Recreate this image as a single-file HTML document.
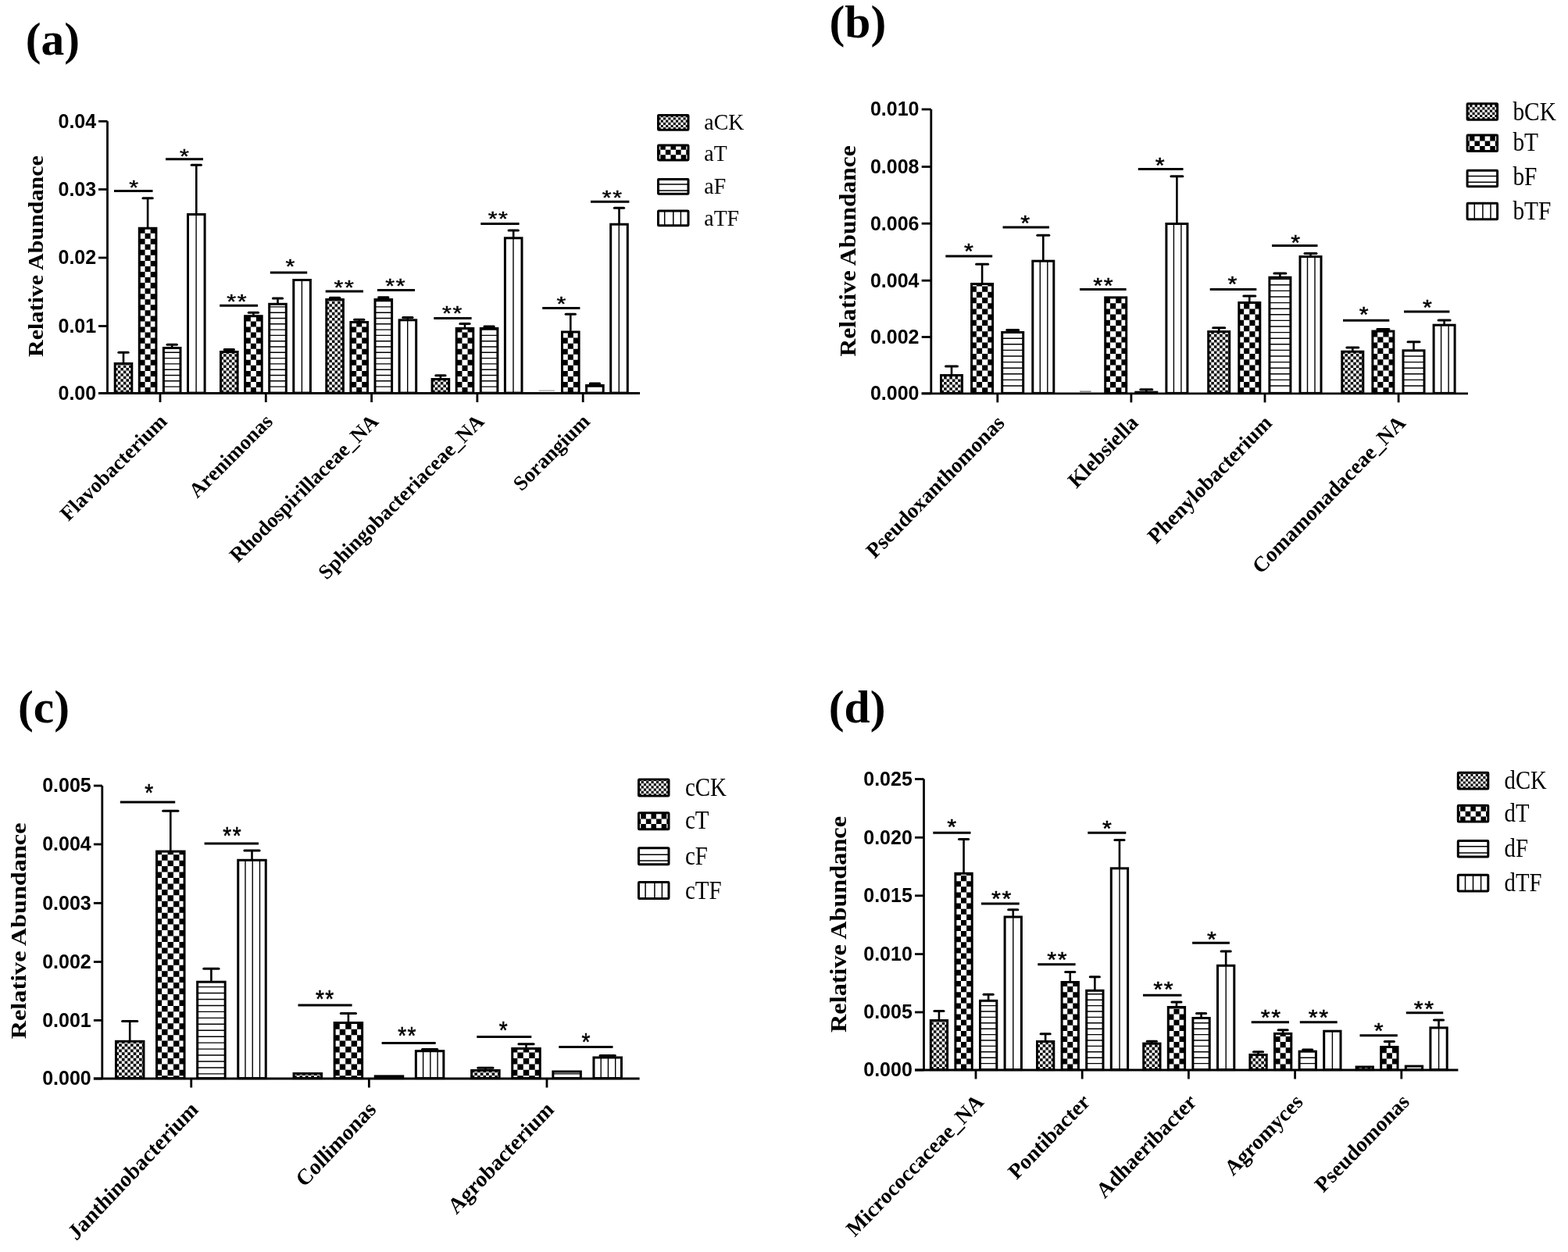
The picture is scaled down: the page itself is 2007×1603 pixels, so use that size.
<!DOCTYPE html>
<html><head><meta charset="utf-8"><title>Relative Abundance</title><style>
html,body{margin:0;padding:0;background:#fff;}
svg{display:block;}
text{fill:#000;}
.st{font-family:"Liberation Sans",Arial,sans-serif;font-size:30.5px;text-anchor:middle;stroke:#000;stroke-width:0.55px;}
.yl{font-family:"Liberation Sans",Arial,sans-serif;font-weight:bold;font-size:25px;text-anchor:end;}
.xl{font-family:"Liberation Serif","Times New Roman",serif;font-weight:bold;font-size:28px;text-anchor:end;}
.yt{font-family:"Liberation Serif","Times New Roman",serif;font-weight:bold;font-size:30px;text-anchor:middle;}
.pl{font-family:"Liberation Serif","Times New Roman",serif;font-weight:bold;font-size:58px;}
.lg{font-family:"Liberation Serif","Times New Roman",serif;font-size:30px;}
</style></head>
<body><svg width="2007" height="1603" viewBox="0 0 2007 1603">
<rect width="2007" height="1603" fill="#fff"/>
<defs><clipPath id="c0"><rect x="147.2" y="465.5" width="21.6" height="37.6"/></clipPath><clipPath id="c1"><rect x="178.3" y="292.25" width="21.6" height="210.85"/></clipPath><clipPath id="c2"><rect x="209.4" y="445.5" width="21.6" height="57.6"/></clipPath><clipPath id="c3"><rect x="240.5" y="274.5" width="21.6" height="228.6"/></clipPath><clipPath id="c4"><rect x="282.5" y="450.5" width="21.6" height="52.6"/></clipPath><clipPath id="c5"><rect x="313.6" y="404.7" width="21.6" height="98.4"/></clipPath><clipPath id="c6"><rect x="344.7" y="389.3" width="21.6" height="113.8"/></clipPath><clipPath id="c7"><rect x="375.8" y="358.5" width="21.6" height="144.6"/></clipPath><clipPath id="c8"><rect x="417.8" y="383.5" width="21.6" height="119.6"/></clipPath><clipPath id="c9"><rect x="448.9" y="412.5" width="21.6" height="90.6"/></clipPath><clipPath id="c10"><rect x="480" y="383.5" width="21.6" height="119.6"/></clipPath><clipPath id="c11"><rect x="511.1" y="409.8" width="21.6" height="93.3"/></clipPath><clipPath id="c12"><rect x="553.1" y="485.5" width="21.6" height="17.6"/></clipPath><clipPath id="c13"><rect x="584.2" y="420.5" width="21.6" height="82.6"/></clipPath><clipPath id="c14"><rect x="615.3" y="420.5" width="21.6" height="82.6"/></clipPath><clipPath id="c15"><rect x="646.4" y="304.8" width="21.6" height="198.3"/></clipPath><clipPath id="c16"><rect x="719.5" y="425" width="21.6" height="78.1"/></clipPath><clipPath id="c17"><rect x="750.6" y="493.5" width="21.6" height="9.6"/></clipPath><clipPath id="c18"><rect x="781.7" y="287.2" width="21.6" height="215.9"/></clipPath><clipPath id="c19"><rect x="842.5" y="147.5" width="38.5" height="18.8"/></clipPath><clipPath id="c20"><rect x="842.5" y="186.1" width="38.5" height="18.8"/></clipPath><clipPath id="c21"><rect x="1204.5" y="480.5" width="27" height="22.9"/></clipPath><clipPath id="c22"><rect x="1243.6" y="363.5" width="27" height="139.9"/></clipPath><clipPath id="c23"><rect x="1282.7" y="425.5" width="27" height="77.9"/></clipPath><clipPath id="c24"><rect x="1321.8" y="334.2" width="27" height="169.2"/></clipPath><clipPath id="c25"><rect x="1414.7" y="380.9" width="27" height="122.5"/></clipPath><clipPath id="c26"><rect x="1492.9" y="286.5" width="27" height="216.9"/></clipPath><clipPath id="c27"><rect x="1546.7" y="424.6" width="27" height="78.8"/></clipPath><clipPath id="c28"><rect x="1585.8" y="387.5" width="27" height="115.9"/></clipPath><clipPath id="c29"><rect x="1624.9" y="355.2" width="27" height="148.2"/></clipPath><clipPath id="c30"><rect x="1664" y="328.6" width="27" height="174.8"/></clipPath><clipPath id="c31"><rect x="1717.8" y="450.2" width="27" height="53.2"/></clipPath><clipPath id="c32"><rect x="1756.9" y="424.1" width="27" height="79.3"/></clipPath><clipPath id="c33"><rect x="1796" y="448.8" width="27" height="54.6"/></clipPath><clipPath id="c34"><rect x="1835.1" y="416.2" width="27" height="87.2"/></clipPath><clipPath id="c35"><rect x="1878.1" y="132.8" width="38.5" height="20.5"/></clipPath><clipPath id="c36"><rect x="1878.1" y="173.1" width="38.5" height="20.5"/></clipPath><clipPath id="c37"><rect x="148.45" y="1333.3" width="35.5" height="47.3"/></clipPath><clipPath id="c38"><rect x="200.55" y="1090.1" width="35.5" height="290.5"/></clipPath><clipPath id="c39"><rect x="252.65" y="1257.2" width="35.5" height="123.4"/></clipPath><clipPath id="c40"><rect x="304.75" y="1101.3" width="35.5" height="279.3"/></clipPath><clipPath id="c41"><rect x="376.05" y="1374.5" width="35.5" height="6.1"/></clipPath><clipPath id="c42"><rect x="428.15" y="1309.5" width="35.5" height="71.1"/></clipPath><clipPath id="c43"><rect x="532.35" y="1345.7" width="35.5" height="34.9"/></clipPath><clipPath id="c44"><rect x="603.65" y="1370.5" width="35.5" height="10.1"/></clipPath><clipPath id="c45"><rect x="655.75" y="1342.5" width="35.5" height="38.1"/></clipPath><clipPath id="c46"><rect x="707.85" y="1372" width="35.5" height="8.6"/></clipPath><clipPath id="c47"><rect x="759.95" y="1354" width="35.5" height="26.6"/></clipPath><clipPath id="c48"><rect x="817.5" y="998.1" width="38.5" height="21"/></clipPath><clipPath id="c49"><rect x="817.5" y="1040.7" width="38.5" height="21"/></clipPath><clipPath id="c50"><rect x="1191.3" y="1306.5" width="21.3" height="63.1"/></clipPath><clipPath id="c51"><rect x="1222.9" y="1118.3" width="21.3" height="251.3"/></clipPath><clipPath id="c52"><rect x="1254.5" y="1281.3" width="21.3" height="88.3"/></clipPath><clipPath id="c53"><rect x="1286.1" y="1174" width="21.3" height="195.6"/></clipPath><clipPath id="c54"><rect x="1327.5" y="1333.5" width="21.3" height="36.1"/></clipPath><clipPath id="c55"><rect x="1359.1" y="1257.5" width="21.3" height="112.1"/></clipPath><clipPath id="c56"><rect x="1390.7" y="1268.3" width="21.3" height="101.3"/></clipPath><clipPath id="c57"><rect x="1422.3" y="1111.8" width="21.3" height="257.8"/></clipPath><clipPath id="c58"><rect x="1463.7" y="1336.1" width="21.3" height="33.5"/></clipPath><clipPath id="c59"><rect x="1495.3" y="1289.5" width="21.3" height="80.1"/></clipPath><clipPath id="c60"><rect x="1526.9" y="1303.5" width="21.3" height="66.1"/></clipPath><clipPath id="c61"><rect x="1558.5" y="1236.3" width="21.3" height="133.3"/></clipPath><clipPath id="c62"><rect x="1599.9" y="1350.5" width="21.3" height="19.1"/></clipPath><clipPath id="c63"><rect x="1631.5" y="1323.4" width="21.3" height="46.2"/></clipPath><clipPath id="c64"><rect x="1663.1" y="1346.2" width="21.3" height="23.4"/></clipPath><clipPath id="c65"><rect x="1694.7" y="1320.2" width="21.3" height="49.4"/></clipPath><clipPath id="c66"><rect x="1736.1" y="1366" width="21.3" height="3.6"/></clipPath><clipPath id="c67"><rect x="1767.7" y="1340.5" width="21.3" height="29.1"/></clipPath><clipPath id="c68"><rect x="1799.3" y="1365.1" width="21.3" height="4.5"/></clipPath><clipPath id="c69"><rect x="1830.9" y="1315.9" width="21.3" height="53.7"/></clipPath><clipPath id="c70"><rect x="1866.3" y="989.3" width="38.5" height="20.7"/></clipPath><clipPath id="c71"><rect x="1866.3" y="1031.3" width="38.5" height="20.7"/></clipPath></defs>
<g><path clip-path="url(#c0)" d="M147.2 499.54h3.56v3.56h-3.56zM154.32 499.54h3.56v3.56h-3.56zM161.44 499.54h3.56v3.56h-3.56zM168.56 499.54h3.56v3.56h-3.56zM150.76 495.98h3.56v3.56h-3.56zM157.88 495.98h3.56v3.56h-3.56zM165 495.98h3.56v3.56h-3.56zM172.12 495.98h3.56v3.56h-3.56zM147.2 492.42h3.56v3.56h-3.56zM154.32 492.42h3.56v3.56h-3.56zM161.44 492.42h3.56v3.56h-3.56zM168.56 492.42h3.56v3.56h-3.56zM150.76 488.86h3.56v3.56h-3.56zM157.88 488.86h3.56v3.56h-3.56zM165 488.86h3.56v3.56h-3.56zM172.12 488.86h3.56v3.56h-3.56zM147.2 485.3h3.56v3.56h-3.56zM154.32 485.3h3.56v3.56h-3.56zM161.44 485.3h3.56v3.56h-3.56zM168.56 485.3h3.56v3.56h-3.56zM150.76 481.74h3.56v3.56h-3.56zM157.88 481.74h3.56v3.56h-3.56zM165 481.74h3.56v3.56h-3.56zM172.12 481.74h3.56v3.56h-3.56zM147.2 478.18h3.56v3.56h-3.56zM154.32 478.18h3.56v3.56h-3.56zM161.44 478.18h3.56v3.56h-3.56zM168.56 478.18h3.56v3.56h-3.56zM150.76 474.62h3.56v3.56h-3.56zM157.88 474.62h3.56v3.56h-3.56zM165 474.62h3.56v3.56h-3.56zM172.12 474.62h3.56v3.56h-3.56zM147.2 471.06h3.56v3.56h-3.56zM154.32 471.06h3.56v3.56h-3.56zM161.44 471.06h3.56v3.56h-3.56zM168.56 471.06h3.56v3.56h-3.56zM150.76 467.5h3.56v3.56h-3.56zM157.88 467.5h3.56v3.56h-3.56zM165 467.5h3.56v3.56h-3.56zM172.12 467.5h3.56v3.56h-3.56zM147.2 463.94h3.56v3.56h-3.56zM154.32 463.94h3.56v3.56h-3.56zM161.44 463.94h3.56v3.56h-3.56zM168.56 463.94h3.56v3.56h-3.56zM150.76 460.38h3.56v3.56h-3.56zM157.88 460.38h3.56v3.56h-3.56zM165 460.38h3.56v3.56h-3.56zM172.12 460.38h3.56v3.56h-3.56z" fill="#111"/><rect x="147.2" y="465.5" width="21.6" height="37.6" fill="none" stroke="#000" stroke-width="3"/><path d="M158 464.5V451.2" stroke="#000" stroke-width="2.6"/><path d="M151.85 451.2H164.15" stroke="#000" stroke-width="3" stroke-linecap="round"/><path clip-path="url(#c1)" d="M164.42 503.1h7.05v7.05h-7.05zM178.52 503.1h7.05v7.05h-7.05zM192.62 503.1h7.05v7.05h-7.05zM206.72 503.1h7.05v7.05h-7.05zM171.47 496.05h7.05v7.05h-7.05zM185.57 496.05h7.05v7.05h-7.05zM199.67 496.05h7.05v7.05h-7.05zM164.42 489h7.05v7.05h-7.05zM178.52 489h7.05v7.05h-7.05zM192.62 489h7.05v7.05h-7.05zM206.72 489h7.05v7.05h-7.05zM171.47 481.95h7.05v7.05h-7.05zM185.57 481.95h7.05v7.05h-7.05zM199.67 481.95h7.05v7.05h-7.05zM164.42 474.9h7.05v7.05h-7.05zM178.52 474.9h7.05v7.05h-7.05zM192.62 474.9h7.05v7.05h-7.05zM206.72 474.9h7.05v7.05h-7.05zM171.47 467.85h7.05v7.05h-7.05zM185.57 467.85h7.05v7.05h-7.05zM199.67 467.85h7.05v7.05h-7.05zM164.42 460.8h7.05v7.05h-7.05zM178.52 460.8h7.05v7.05h-7.05zM192.62 460.8h7.05v7.05h-7.05zM206.72 460.8h7.05v7.05h-7.05zM171.47 453.75h7.05v7.05h-7.05zM185.57 453.75h7.05v7.05h-7.05zM199.67 453.75h7.05v7.05h-7.05zM164.42 446.7h7.05v7.05h-7.05zM178.52 446.7h7.05v7.05h-7.05zM192.62 446.7h7.05v7.05h-7.05zM206.72 446.7h7.05v7.05h-7.05zM171.47 439.65h7.05v7.05h-7.05zM185.57 439.65h7.05v7.05h-7.05zM199.67 439.65h7.05v7.05h-7.05zM164.42 432.6h7.05v7.05h-7.05zM178.52 432.6h7.05v7.05h-7.05zM192.62 432.6h7.05v7.05h-7.05zM206.72 432.6h7.05v7.05h-7.05zM171.47 425.55h7.05v7.05h-7.05zM185.57 425.55h7.05v7.05h-7.05zM199.67 425.55h7.05v7.05h-7.05zM164.42 418.5h7.05v7.05h-7.05zM178.52 418.5h7.05v7.05h-7.05zM192.62 418.5h7.05v7.05h-7.05zM206.72 418.5h7.05v7.05h-7.05zM171.47 411.45h7.05v7.05h-7.05zM185.57 411.45h7.05v7.05h-7.05zM199.67 411.45h7.05v7.05h-7.05zM164.42 404.4h7.05v7.05h-7.05zM178.52 404.4h7.05v7.05h-7.05zM192.62 404.4h7.05v7.05h-7.05zM206.72 404.4h7.05v7.05h-7.05zM171.47 397.35h7.05v7.05h-7.05zM185.57 397.35h7.05v7.05h-7.05zM199.67 397.35h7.05v7.05h-7.05zM164.42 390.3h7.05v7.05h-7.05zM178.52 390.3h7.05v7.05h-7.05zM192.62 390.3h7.05v7.05h-7.05zM206.72 390.3h7.05v7.05h-7.05zM171.47 383.25h7.05v7.05h-7.05zM185.57 383.25h7.05v7.05h-7.05zM199.67 383.25h7.05v7.05h-7.05zM164.42 376.2h7.05v7.05h-7.05zM178.52 376.2h7.05v7.05h-7.05zM192.62 376.2h7.05v7.05h-7.05zM206.72 376.2h7.05v7.05h-7.05zM171.47 369.15h7.05v7.05h-7.05zM185.57 369.15h7.05v7.05h-7.05zM199.67 369.15h7.05v7.05h-7.05zM164.42 362.1h7.05v7.05h-7.05zM178.52 362.1h7.05v7.05h-7.05zM192.62 362.1h7.05v7.05h-7.05zM206.72 362.1h7.05v7.05h-7.05zM171.47 355.05h7.05v7.05h-7.05zM185.57 355.05h7.05v7.05h-7.05zM199.67 355.05h7.05v7.05h-7.05zM164.42 348h7.05v7.05h-7.05zM178.52 348h7.05v7.05h-7.05zM192.62 348h7.05v7.05h-7.05zM206.72 348h7.05v7.05h-7.05zM171.47 340.95h7.05v7.05h-7.05zM185.57 340.95h7.05v7.05h-7.05zM199.67 340.95h7.05v7.05h-7.05zM164.42 333.9h7.05v7.05h-7.05zM178.52 333.9h7.05v7.05h-7.05zM192.62 333.9h7.05v7.05h-7.05zM206.72 333.9h7.05v7.05h-7.05zM171.47 326.85h7.05v7.05h-7.05zM185.57 326.85h7.05v7.05h-7.05zM199.67 326.85h7.05v7.05h-7.05zM164.42 319.8h7.05v7.05h-7.05zM178.52 319.8h7.05v7.05h-7.05zM192.62 319.8h7.05v7.05h-7.05zM206.72 319.8h7.05v7.05h-7.05zM171.47 312.75h7.05v7.05h-7.05zM185.57 312.75h7.05v7.05h-7.05zM199.67 312.75h7.05v7.05h-7.05zM164.42 305.7h7.05v7.05h-7.05zM178.52 305.7h7.05v7.05h-7.05zM192.62 305.7h7.05v7.05h-7.05zM206.72 305.7h7.05v7.05h-7.05zM171.47 298.65h7.05v7.05h-7.05zM185.57 298.65h7.05v7.05h-7.05zM199.67 298.65h7.05v7.05h-7.05zM164.42 291.6h7.05v7.05h-7.05zM178.52 291.6h7.05v7.05h-7.05zM192.62 291.6h7.05v7.05h-7.05zM206.72 291.6h7.05v7.05h-7.05zM171.47 284.55h7.05v7.05h-7.05zM185.57 284.55h7.05v7.05h-7.05zM199.67 284.55h7.05v7.05h-7.05zM164.42 277.5h7.05v7.05h-7.05zM178.52 277.5h7.05v7.05h-7.05zM192.62 277.5h7.05v7.05h-7.05zM206.72 277.5h7.05v7.05h-7.05z" fill="#000"/><rect x="178.3" y="292.25" width="21.6" height="210.85" fill="none" stroke="#000" stroke-width="3"/><path d="M189.1 291.25V253.8" stroke="#000" stroke-width="2.6"/><path d="M182.95 253.8H195.25" stroke="#000" stroke-width="3" stroke-linecap="round"/><path clip-path="url(#c2)" d="M209.4 495.1H231M209.4 487.8H231M209.4 480.5H231M209.4 473.2H231M209.4 465.9H231M209.4 458.6H231M209.4 451.3H231" stroke="#000" stroke-width="1.4" fill="none"/><rect x="209.4" y="445.5" width="21.6" height="57.6" fill="none" stroke="#000" stroke-width="3"/><path d="M220.2 444.5V441.2" stroke="#000" stroke-width="2.6"/><path d="M214.05 441.2H226.35" stroke="#000" stroke-width="3" stroke-linecap="round"/><path clip-path="url(#c3)" d="M251.1 274.5V503.1" stroke="#000" stroke-width="1.4" fill="none"/><rect x="240.5" y="274.5" width="21.6" height="228.6" fill="none" stroke="#000" stroke-width="3"/><path d="M251.3 273.5V211.3" stroke="#000" stroke-width="2.6"/><path d="M245.15 211.3H257.45" stroke="#000" stroke-width="3" stroke-linecap="round"/><path d="M146 244.5H195.5" stroke="#000" stroke-width="3"/><text class="st" transform="translate(171.1 248.62) scale(1 0.86)" >*</text><path d="M212 203.75H260" stroke="#000" stroke-width="3"/><text class="st" transform="translate(236 209.22) scale(1 0.86)" >*</text><path clip-path="url(#c4)" d="M282.5 499.54h3.56v3.56h-3.56zM289.62 499.54h3.56v3.56h-3.56zM296.74 499.54h3.56v3.56h-3.56zM303.86 499.54h3.56v3.56h-3.56zM286.06 495.98h3.56v3.56h-3.56zM293.18 495.98h3.56v3.56h-3.56zM300.3 495.98h3.56v3.56h-3.56zM307.42 495.98h3.56v3.56h-3.56zM282.5 492.42h3.56v3.56h-3.56zM289.62 492.42h3.56v3.56h-3.56zM296.74 492.42h3.56v3.56h-3.56zM303.86 492.42h3.56v3.56h-3.56zM286.06 488.86h3.56v3.56h-3.56zM293.18 488.86h3.56v3.56h-3.56zM300.3 488.86h3.56v3.56h-3.56zM307.42 488.86h3.56v3.56h-3.56zM282.5 485.3h3.56v3.56h-3.56zM289.62 485.3h3.56v3.56h-3.56zM296.74 485.3h3.56v3.56h-3.56zM303.86 485.3h3.56v3.56h-3.56zM286.06 481.74h3.56v3.56h-3.56zM293.18 481.74h3.56v3.56h-3.56zM300.3 481.74h3.56v3.56h-3.56zM307.42 481.74h3.56v3.56h-3.56zM282.5 478.18h3.56v3.56h-3.56zM289.62 478.18h3.56v3.56h-3.56zM296.74 478.18h3.56v3.56h-3.56zM303.86 478.18h3.56v3.56h-3.56zM286.06 474.62h3.56v3.56h-3.56zM293.18 474.62h3.56v3.56h-3.56zM300.3 474.62h3.56v3.56h-3.56zM307.42 474.62h3.56v3.56h-3.56zM282.5 471.06h3.56v3.56h-3.56zM289.62 471.06h3.56v3.56h-3.56zM296.74 471.06h3.56v3.56h-3.56zM303.86 471.06h3.56v3.56h-3.56zM286.06 467.5h3.56v3.56h-3.56zM293.18 467.5h3.56v3.56h-3.56zM300.3 467.5h3.56v3.56h-3.56zM307.42 467.5h3.56v3.56h-3.56zM282.5 463.94h3.56v3.56h-3.56zM289.62 463.94h3.56v3.56h-3.56zM296.74 463.94h3.56v3.56h-3.56zM303.86 463.94h3.56v3.56h-3.56zM286.06 460.38h3.56v3.56h-3.56zM293.18 460.38h3.56v3.56h-3.56zM300.3 460.38h3.56v3.56h-3.56zM307.42 460.38h3.56v3.56h-3.56zM282.5 456.82h3.56v3.56h-3.56zM289.62 456.82h3.56v3.56h-3.56zM296.74 456.82h3.56v3.56h-3.56zM303.86 456.82h3.56v3.56h-3.56zM286.06 453.26h3.56v3.56h-3.56zM293.18 453.26h3.56v3.56h-3.56zM300.3 453.26h3.56v3.56h-3.56zM307.42 453.26h3.56v3.56h-3.56zM282.5 449.7h3.56v3.56h-3.56zM289.62 449.7h3.56v3.56h-3.56zM296.74 449.7h3.56v3.56h-3.56zM303.86 449.7h3.56v3.56h-3.56zM286.06 446.14h3.56v3.56h-3.56zM293.18 446.14h3.56v3.56h-3.56zM300.3 446.14h3.56v3.56h-3.56zM307.42 446.14h3.56v3.56h-3.56z" fill="#111"/><rect x="282.5" y="450.5" width="21.6" height="52.6" fill="none" stroke="#000" stroke-width="3"/><path d="M293.3 449.5V447.6" stroke="#000" stroke-width="2.6"/><path d="M287.15 447.6H299.45" stroke="#000" stroke-width="3" stroke-linecap="round"/><path clip-path="url(#c5)" d="M299.73 503.1h7.05v7.05h-7.05zM313.83 503.1h7.05v7.05h-7.05zM327.93 503.1h7.05v7.05h-7.05zM342.03 503.1h7.05v7.05h-7.05zM306.78 496.05h7.05v7.05h-7.05zM320.88 496.05h7.05v7.05h-7.05zM334.98 496.05h7.05v7.05h-7.05zM299.73 489h7.05v7.05h-7.05zM313.83 489h7.05v7.05h-7.05zM327.93 489h7.05v7.05h-7.05zM342.03 489h7.05v7.05h-7.05zM306.78 481.95h7.05v7.05h-7.05zM320.88 481.95h7.05v7.05h-7.05zM334.98 481.95h7.05v7.05h-7.05zM299.73 474.9h7.05v7.05h-7.05zM313.83 474.9h7.05v7.05h-7.05zM327.93 474.9h7.05v7.05h-7.05zM342.03 474.9h7.05v7.05h-7.05zM306.78 467.85h7.05v7.05h-7.05zM320.88 467.85h7.05v7.05h-7.05zM334.98 467.85h7.05v7.05h-7.05zM299.73 460.8h7.05v7.05h-7.05zM313.83 460.8h7.05v7.05h-7.05zM327.93 460.8h7.05v7.05h-7.05zM342.03 460.8h7.05v7.05h-7.05zM306.78 453.75h7.05v7.05h-7.05zM320.88 453.75h7.05v7.05h-7.05zM334.98 453.75h7.05v7.05h-7.05zM299.73 446.7h7.05v7.05h-7.05zM313.83 446.7h7.05v7.05h-7.05zM327.93 446.7h7.05v7.05h-7.05zM342.03 446.7h7.05v7.05h-7.05zM306.78 439.65h7.05v7.05h-7.05zM320.88 439.65h7.05v7.05h-7.05zM334.98 439.65h7.05v7.05h-7.05zM299.73 432.6h7.05v7.05h-7.05zM313.83 432.6h7.05v7.05h-7.05zM327.93 432.6h7.05v7.05h-7.05zM342.03 432.6h7.05v7.05h-7.05zM306.78 425.55h7.05v7.05h-7.05zM320.88 425.55h7.05v7.05h-7.05zM334.98 425.55h7.05v7.05h-7.05zM299.73 418.5h7.05v7.05h-7.05zM313.83 418.5h7.05v7.05h-7.05zM327.93 418.5h7.05v7.05h-7.05zM342.03 418.5h7.05v7.05h-7.05zM306.78 411.45h7.05v7.05h-7.05zM320.88 411.45h7.05v7.05h-7.05zM334.98 411.45h7.05v7.05h-7.05zM299.73 404.4h7.05v7.05h-7.05zM313.83 404.4h7.05v7.05h-7.05zM327.93 404.4h7.05v7.05h-7.05zM342.03 404.4h7.05v7.05h-7.05zM306.78 397.35h7.05v7.05h-7.05zM320.88 397.35h7.05v7.05h-7.05zM334.98 397.35h7.05v7.05h-7.05zM299.73 390.3h7.05v7.05h-7.05zM313.83 390.3h7.05v7.05h-7.05zM327.93 390.3h7.05v7.05h-7.05zM342.03 390.3h7.05v7.05h-7.05z" fill="#000"/><rect x="313.6" y="404.7" width="21.6" height="98.4" fill="none" stroke="#000" stroke-width="3"/><path d="M324.4 403.7V400.3" stroke="#000" stroke-width="2.6"/><path d="M318.25 400.3H330.55" stroke="#000" stroke-width="3" stroke-linecap="round"/><path clip-path="url(#c6)" d="M344.7 495.1H366.3M344.7 487.8H366.3M344.7 480.5H366.3M344.7 473.2H366.3M344.7 465.9H366.3M344.7 458.6H366.3M344.7 451.3H366.3M344.7 444H366.3M344.7 436.7H366.3M344.7 429.4H366.3M344.7 422.1H366.3M344.7 414.8H366.3M344.7 407.5H366.3M344.7 400.2H366.3M344.7 392.9H366.3" stroke="#000" stroke-width="1.4" fill="none"/><rect x="344.7" y="389.3" width="21.6" height="113.8" fill="none" stroke="#000" stroke-width="3"/><path d="M355.5 388.3V382" stroke="#000" stroke-width="2.6"/><path d="M349.35 382H361.65" stroke="#000" stroke-width="3" stroke-linecap="round"/><path clip-path="url(#c7)" d="M386.4 358.5V503.1" stroke="#000" stroke-width="1.4" fill="none"/><rect x="375.8" y="358.5" width="21.6" height="144.6" fill="none" stroke="#000" stroke-width="3"/><path d="M281.2 391.2H330" stroke="#000" stroke-width="3"/><text class="st" transform="translate(303.65 394.62) scale(1 0.86)" letter-spacing="1.6">**</text><path d="M345.8 349H393.2" stroke="#000" stroke-width="3"/><text class="st" transform="translate(371.5 349.72) scale(1 0.86)" >*</text><path clip-path="url(#c8)" d="M417.8 499.54h3.56v3.56h-3.56zM424.92 499.54h3.56v3.56h-3.56zM432.04 499.54h3.56v3.56h-3.56zM439.16 499.54h3.56v3.56h-3.56zM421.36 495.98h3.56v3.56h-3.56zM428.48 495.98h3.56v3.56h-3.56zM435.6 495.98h3.56v3.56h-3.56zM442.72 495.98h3.56v3.56h-3.56zM417.8 492.42h3.56v3.56h-3.56zM424.92 492.42h3.56v3.56h-3.56zM432.04 492.42h3.56v3.56h-3.56zM439.16 492.42h3.56v3.56h-3.56zM421.36 488.86h3.56v3.56h-3.56zM428.48 488.86h3.56v3.56h-3.56zM435.6 488.86h3.56v3.56h-3.56zM442.72 488.86h3.56v3.56h-3.56zM417.8 485.3h3.56v3.56h-3.56zM424.92 485.3h3.56v3.56h-3.56zM432.04 485.3h3.56v3.56h-3.56zM439.16 485.3h3.56v3.56h-3.56zM421.36 481.74h3.56v3.56h-3.56zM428.48 481.74h3.56v3.56h-3.56zM435.6 481.74h3.56v3.56h-3.56zM442.72 481.74h3.56v3.56h-3.56zM417.8 478.18h3.56v3.56h-3.56zM424.92 478.18h3.56v3.56h-3.56zM432.04 478.18h3.56v3.56h-3.56zM439.16 478.18h3.56v3.56h-3.56zM421.36 474.62h3.56v3.56h-3.56zM428.48 474.62h3.56v3.56h-3.56zM435.6 474.62h3.56v3.56h-3.56zM442.72 474.62h3.56v3.56h-3.56zM417.8 471.06h3.56v3.56h-3.56zM424.92 471.06h3.56v3.56h-3.56zM432.04 471.06h3.56v3.56h-3.56zM439.16 471.06h3.56v3.56h-3.56zM421.36 467.5h3.56v3.56h-3.56zM428.48 467.5h3.56v3.56h-3.56zM435.6 467.5h3.56v3.56h-3.56zM442.72 467.5h3.56v3.56h-3.56zM417.8 463.94h3.56v3.56h-3.56zM424.92 463.94h3.56v3.56h-3.56zM432.04 463.94h3.56v3.56h-3.56zM439.16 463.94h3.56v3.56h-3.56zM421.36 460.38h3.56v3.56h-3.56zM428.48 460.38h3.56v3.56h-3.56zM435.6 460.38h3.56v3.56h-3.56zM442.72 460.38h3.56v3.56h-3.56zM417.8 456.82h3.56v3.56h-3.56zM424.92 456.82h3.56v3.56h-3.56zM432.04 456.82h3.56v3.56h-3.56zM439.16 456.82h3.56v3.56h-3.56zM421.36 453.26h3.56v3.56h-3.56zM428.48 453.26h3.56v3.56h-3.56zM435.6 453.26h3.56v3.56h-3.56zM442.72 453.26h3.56v3.56h-3.56zM417.8 449.7h3.56v3.56h-3.56zM424.92 449.7h3.56v3.56h-3.56zM432.04 449.7h3.56v3.56h-3.56zM439.16 449.7h3.56v3.56h-3.56zM421.36 446.14h3.56v3.56h-3.56zM428.48 446.14h3.56v3.56h-3.56zM435.6 446.14h3.56v3.56h-3.56zM442.72 446.14h3.56v3.56h-3.56zM417.8 442.58h3.56v3.56h-3.56zM424.92 442.58h3.56v3.56h-3.56zM432.04 442.58h3.56v3.56h-3.56zM439.16 442.58h3.56v3.56h-3.56zM421.36 439.02h3.56v3.56h-3.56zM428.48 439.02h3.56v3.56h-3.56zM435.6 439.02h3.56v3.56h-3.56zM442.72 439.02h3.56v3.56h-3.56zM417.8 435.46h3.56v3.56h-3.56zM424.92 435.46h3.56v3.56h-3.56zM432.04 435.46h3.56v3.56h-3.56zM439.16 435.46h3.56v3.56h-3.56zM421.36 431.9h3.56v3.56h-3.56zM428.48 431.9h3.56v3.56h-3.56zM435.6 431.9h3.56v3.56h-3.56zM442.72 431.9h3.56v3.56h-3.56zM417.8 428.34h3.56v3.56h-3.56zM424.92 428.34h3.56v3.56h-3.56zM432.04 428.34h3.56v3.56h-3.56zM439.16 428.34h3.56v3.56h-3.56zM421.36 424.78h3.56v3.56h-3.56zM428.48 424.78h3.56v3.56h-3.56zM435.6 424.78h3.56v3.56h-3.56zM442.72 424.78h3.56v3.56h-3.56zM417.8 421.22h3.56v3.56h-3.56zM424.92 421.22h3.56v3.56h-3.56zM432.04 421.22h3.56v3.56h-3.56zM439.16 421.22h3.56v3.56h-3.56zM421.36 417.66h3.56v3.56h-3.56zM428.48 417.66h3.56v3.56h-3.56zM435.6 417.66h3.56v3.56h-3.56zM442.72 417.66h3.56v3.56h-3.56zM417.8 414.1h3.56v3.56h-3.56zM424.92 414.1h3.56v3.56h-3.56zM432.04 414.1h3.56v3.56h-3.56zM439.16 414.1h3.56v3.56h-3.56zM421.36 410.54h3.56v3.56h-3.56zM428.48 410.54h3.56v3.56h-3.56zM435.6 410.54h3.56v3.56h-3.56zM442.72 410.54h3.56v3.56h-3.56zM417.8 406.98h3.56v3.56h-3.56zM424.92 406.98h3.56v3.56h-3.56zM432.04 406.98h3.56v3.56h-3.56zM439.16 406.98h3.56v3.56h-3.56zM421.36 403.42h3.56v3.56h-3.56zM428.48 403.42h3.56v3.56h-3.56zM435.6 403.42h3.56v3.56h-3.56zM442.72 403.42h3.56v3.56h-3.56zM417.8 399.86h3.56v3.56h-3.56zM424.92 399.86h3.56v3.56h-3.56zM432.04 399.86h3.56v3.56h-3.56zM439.16 399.86h3.56v3.56h-3.56zM421.36 396.3h3.56v3.56h-3.56zM428.48 396.3h3.56v3.56h-3.56zM435.6 396.3h3.56v3.56h-3.56zM442.72 396.3h3.56v3.56h-3.56zM417.8 392.74h3.56v3.56h-3.56zM424.92 392.74h3.56v3.56h-3.56zM432.04 392.74h3.56v3.56h-3.56zM439.16 392.74h3.56v3.56h-3.56zM421.36 389.18h3.56v3.56h-3.56zM428.48 389.18h3.56v3.56h-3.56zM435.6 389.18h3.56v3.56h-3.56zM442.72 389.18h3.56v3.56h-3.56zM417.8 385.62h3.56v3.56h-3.56zM424.92 385.62h3.56v3.56h-3.56zM432.04 385.62h3.56v3.56h-3.56zM439.16 385.62h3.56v3.56h-3.56zM421.36 382.06h3.56v3.56h-3.56zM428.48 382.06h3.56v3.56h-3.56zM435.6 382.06h3.56v3.56h-3.56zM442.72 382.06h3.56v3.56h-3.56zM417.8 378.5h3.56v3.56h-3.56zM424.92 378.5h3.56v3.56h-3.56zM432.04 378.5h3.56v3.56h-3.56zM439.16 378.5h3.56v3.56h-3.56z" fill="#111"/><rect x="417.8" y="383.5" width="21.6" height="119.6" fill="none" stroke="#000" stroke-width="3"/><path d="M428.6 382.5V381.3" stroke="#000" stroke-width="2.6"/><path d="M422.45 381.3H434.75" stroke="#000" stroke-width="3" stroke-linecap="round"/><path clip-path="url(#c9)" d="M435.03 503.1h7.05v7.05h-7.05zM449.13 503.1h7.05v7.05h-7.05zM463.23 503.1h7.05v7.05h-7.05zM477.33 503.1h7.05v7.05h-7.05zM442.08 496.05h7.05v7.05h-7.05zM456.18 496.05h7.05v7.05h-7.05zM470.28 496.05h7.05v7.05h-7.05zM435.03 489h7.05v7.05h-7.05zM449.13 489h7.05v7.05h-7.05zM463.23 489h7.05v7.05h-7.05zM477.33 489h7.05v7.05h-7.05zM442.08 481.95h7.05v7.05h-7.05zM456.18 481.95h7.05v7.05h-7.05zM470.28 481.95h7.05v7.05h-7.05zM435.03 474.9h7.05v7.05h-7.05zM449.13 474.9h7.05v7.05h-7.05zM463.23 474.9h7.05v7.05h-7.05zM477.33 474.9h7.05v7.05h-7.05zM442.08 467.85h7.05v7.05h-7.05zM456.18 467.85h7.05v7.05h-7.05zM470.28 467.85h7.05v7.05h-7.05zM435.03 460.8h7.05v7.05h-7.05zM449.13 460.8h7.05v7.05h-7.05zM463.23 460.8h7.05v7.05h-7.05zM477.33 460.8h7.05v7.05h-7.05zM442.08 453.75h7.05v7.05h-7.05zM456.18 453.75h7.05v7.05h-7.05zM470.28 453.75h7.05v7.05h-7.05zM435.03 446.7h7.05v7.05h-7.05zM449.13 446.7h7.05v7.05h-7.05zM463.23 446.7h7.05v7.05h-7.05zM477.33 446.7h7.05v7.05h-7.05zM442.08 439.65h7.05v7.05h-7.05zM456.18 439.65h7.05v7.05h-7.05zM470.28 439.65h7.05v7.05h-7.05zM435.03 432.6h7.05v7.05h-7.05zM449.13 432.6h7.05v7.05h-7.05zM463.23 432.6h7.05v7.05h-7.05zM477.33 432.6h7.05v7.05h-7.05zM442.08 425.55h7.05v7.05h-7.05zM456.18 425.55h7.05v7.05h-7.05zM470.28 425.55h7.05v7.05h-7.05zM435.03 418.5h7.05v7.05h-7.05zM449.13 418.5h7.05v7.05h-7.05zM463.23 418.5h7.05v7.05h-7.05zM477.33 418.5h7.05v7.05h-7.05zM442.08 411.45h7.05v7.05h-7.05zM456.18 411.45h7.05v7.05h-7.05zM470.28 411.45h7.05v7.05h-7.05zM435.03 404.4h7.05v7.05h-7.05zM449.13 404.4h7.05v7.05h-7.05zM463.23 404.4h7.05v7.05h-7.05zM477.33 404.4h7.05v7.05h-7.05zM442.08 397.35h7.05v7.05h-7.05zM456.18 397.35h7.05v7.05h-7.05zM470.28 397.35h7.05v7.05h-7.05z" fill="#000"/><rect x="448.9" y="412.5" width="21.6" height="90.6" fill="none" stroke="#000" stroke-width="3"/><path d="M459.7 411.5V409.2" stroke="#000" stroke-width="2.6"/><path d="M453.55 409.2H465.85" stroke="#000" stroke-width="3" stroke-linecap="round"/><path clip-path="url(#c10)" d="M480 495.1H501.6M480 487.8H501.6M480 480.5H501.6M480 473.2H501.6M480 465.9H501.6M480 458.6H501.6M480 451.3H501.6M480 444H501.6M480 436.7H501.6M480 429.4H501.6M480 422.1H501.6M480 414.8H501.6M480 407.5H501.6M480 400.2H501.6M480 392.9H501.6M480 385.6H501.6" stroke="#000" stroke-width="1.4" fill="none"/><rect x="480" y="383.5" width="21.6" height="119.6" fill="none" stroke="#000" stroke-width="3"/><path d="M490.8 382.5V380.8" stroke="#000" stroke-width="2.6"/><path d="M484.65 380.8H496.95" stroke="#000" stroke-width="3" stroke-linecap="round"/><path clip-path="url(#c11)" d="M521.7 409.8V503.1" stroke="#000" stroke-width="1.4" fill="none"/><rect x="511.1" y="409.8" width="21.6" height="93.3" fill="none" stroke="#000" stroke-width="3"/><path d="M521.9 408.8V406.5" stroke="#000" stroke-width="2.6"/><path d="M515.75 406.5H528.05" stroke="#000" stroke-width="3" stroke-linecap="round"/><path d="M416.7 373H465" stroke="#000" stroke-width="3"/><text class="st" transform="translate(440.9 376.82) scale(1 0.86)" letter-spacing="1.6">**</text><path d="M483 371.4H531" stroke="#000" stroke-width="3"/><text class="st" transform="translate(506.65 374.82) scale(1 0.86)" letter-spacing="1.6">**</text><path clip-path="url(#c12)" d="M553.1 499.54h3.56v3.56h-3.56zM560.22 499.54h3.56v3.56h-3.56zM567.34 499.54h3.56v3.56h-3.56zM574.46 499.54h3.56v3.56h-3.56zM556.66 495.98h3.56v3.56h-3.56zM563.78 495.98h3.56v3.56h-3.56zM570.9 495.98h3.56v3.56h-3.56zM578.02 495.98h3.56v3.56h-3.56zM553.1 492.42h3.56v3.56h-3.56zM560.22 492.42h3.56v3.56h-3.56zM567.34 492.42h3.56v3.56h-3.56zM574.46 492.42h3.56v3.56h-3.56zM556.66 488.86h3.56v3.56h-3.56zM563.78 488.86h3.56v3.56h-3.56zM570.9 488.86h3.56v3.56h-3.56zM578.02 488.86h3.56v3.56h-3.56zM553.1 485.3h3.56v3.56h-3.56zM560.22 485.3h3.56v3.56h-3.56zM567.34 485.3h3.56v3.56h-3.56zM574.46 485.3h3.56v3.56h-3.56zM556.66 481.74h3.56v3.56h-3.56zM563.78 481.74h3.56v3.56h-3.56zM570.9 481.74h3.56v3.56h-3.56zM578.02 481.74h3.56v3.56h-3.56z" fill="#111"/><rect x="553.1" y="485.5" width="21.6" height="17.6" fill="none" stroke="#000" stroke-width="3"/><path d="M563.9 484.5V480.8" stroke="#000" stroke-width="2.6"/><path d="M557.75 480.8H570.05" stroke="#000" stroke-width="3" stroke-linecap="round"/><path clip-path="url(#c13)" d="M570.33 503.1h7.05v7.05h-7.05zM584.43 503.1h7.05v7.05h-7.05zM598.53 503.1h7.05v7.05h-7.05zM612.63 503.1h7.05v7.05h-7.05zM577.38 496.05h7.05v7.05h-7.05zM591.48 496.05h7.05v7.05h-7.05zM605.58 496.05h7.05v7.05h-7.05zM570.33 489h7.05v7.05h-7.05zM584.43 489h7.05v7.05h-7.05zM598.53 489h7.05v7.05h-7.05zM612.63 489h7.05v7.05h-7.05zM577.38 481.95h7.05v7.05h-7.05zM591.48 481.95h7.05v7.05h-7.05zM605.58 481.95h7.05v7.05h-7.05zM570.33 474.9h7.05v7.05h-7.05zM584.43 474.9h7.05v7.05h-7.05zM598.53 474.9h7.05v7.05h-7.05zM612.63 474.9h7.05v7.05h-7.05zM577.38 467.85h7.05v7.05h-7.05zM591.48 467.85h7.05v7.05h-7.05zM605.58 467.85h7.05v7.05h-7.05zM570.33 460.8h7.05v7.05h-7.05zM584.43 460.8h7.05v7.05h-7.05zM598.53 460.8h7.05v7.05h-7.05zM612.63 460.8h7.05v7.05h-7.05zM577.38 453.75h7.05v7.05h-7.05zM591.48 453.75h7.05v7.05h-7.05zM605.58 453.75h7.05v7.05h-7.05zM570.33 446.7h7.05v7.05h-7.05zM584.43 446.7h7.05v7.05h-7.05zM598.53 446.7h7.05v7.05h-7.05zM612.63 446.7h7.05v7.05h-7.05zM577.38 439.65h7.05v7.05h-7.05zM591.48 439.65h7.05v7.05h-7.05zM605.58 439.65h7.05v7.05h-7.05zM570.33 432.6h7.05v7.05h-7.05zM584.43 432.6h7.05v7.05h-7.05zM598.53 432.6h7.05v7.05h-7.05zM612.63 432.6h7.05v7.05h-7.05zM577.38 425.55h7.05v7.05h-7.05zM591.48 425.55h7.05v7.05h-7.05zM605.58 425.55h7.05v7.05h-7.05zM570.33 418.5h7.05v7.05h-7.05zM584.43 418.5h7.05v7.05h-7.05zM598.53 418.5h7.05v7.05h-7.05zM612.63 418.5h7.05v7.05h-7.05zM577.38 411.45h7.05v7.05h-7.05zM591.48 411.45h7.05v7.05h-7.05zM605.58 411.45h7.05v7.05h-7.05zM570.33 404.4h7.05v7.05h-7.05zM584.43 404.4h7.05v7.05h-7.05zM598.53 404.4h7.05v7.05h-7.05zM612.63 404.4h7.05v7.05h-7.05z" fill="#000"/><rect x="584.2" y="420.5" width="21.6" height="82.6" fill="none" stroke="#000" stroke-width="3"/><path d="M595 419.5V414.4" stroke="#000" stroke-width="2.6"/><path d="M588.85 414.4H601.15" stroke="#000" stroke-width="3" stroke-linecap="round"/><path clip-path="url(#c14)" d="M615.3 495.1H636.9M615.3 487.8H636.9M615.3 480.5H636.9M615.3 473.2H636.9M615.3 465.9H636.9M615.3 458.6H636.9M615.3 451.3H636.9M615.3 444H636.9M615.3 436.7H636.9M615.3 429.4H636.9M615.3 422.1H636.9" stroke="#000" stroke-width="1.4" fill="none"/><rect x="615.3" y="420.5" width="21.6" height="82.6" fill="none" stroke="#000" stroke-width="3"/><path d="M626.1 419.5V418" stroke="#000" stroke-width="2.6"/><path d="M619.95 418H632.25" stroke="#000" stroke-width="3" stroke-linecap="round"/><path clip-path="url(#c15)" d="M657 304.8V503.1" stroke="#000" stroke-width="1.4" fill="none"/><rect x="646.4" y="304.8" width="21.6" height="198.3" fill="none" stroke="#000" stroke-width="3"/><path d="M657.2 303.8V295.1" stroke="#000" stroke-width="2.6"/><path d="M651.05 295.1H663.35" stroke="#000" stroke-width="3" stroke-linecap="round"/><path d="M555.3 407.4H603.6" stroke="#000" stroke-width="3"/><text class="st" transform="translate(579.4 410.22) scale(1 0.86)" letter-spacing="1.6">**</text><path d="M615.3 286.4H664.6" stroke="#000" stroke-width="3"/><text class="st" transform="translate(638.1 289.22) scale(1 0.86)" letter-spacing="1.6">**</text><path d="M689.6 500.2H709.9" stroke="#b5b5b5" stroke-width="1.6"/><path clip-path="url(#c16)" d="M705.63 503.1h7.05v7.05h-7.05zM719.73 503.1h7.05v7.05h-7.05zM733.83 503.1h7.05v7.05h-7.05zM747.93 503.1h7.05v7.05h-7.05zM712.68 496.05h7.05v7.05h-7.05zM726.78 496.05h7.05v7.05h-7.05zM740.88 496.05h7.05v7.05h-7.05zM705.63 489h7.05v7.05h-7.05zM719.73 489h7.05v7.05h-7.05zM733.83 489h7.05v7.05h-7.05zM747.93 489h7.05v7.05h-7.05zM712.68 481.95h7.05v7.05h-7.05zM726.78 481.95h7.05v7.05h-7.05zM740.88 481.95h7.05v7.05h-7.05zM705.63 474.9h7.05v7.05h-7.05zM719.73 474.9h7.05v7.05h-7.05zM733.83 474.9h7.05v7.05h-7.05zM747.93 474.9h7.05v7.05h-7.05zM712.68 467.85h7.05v7.05h-7.05zM726.78 467.85h7.05v7.05h-7.05zM740.88 467.85h7.05v7.05h-7.05zM705.63 460.8h7.05v7.05h-7.05zM719.73 460.8h7.05v7.05h-7.05zM733.83 460.8h7.05v7.05h-7.05zM747.93 460.8h7.05v7.05h-7.05zM712.68 453.75h7.05v7.05h-7.05zM726.78 453.75h7.05v7.05h-7.05zM740.88 453.75h7.05v7.05h-7.05zM705.63 446.7h7.05v7.05h-7.05zM719.73 446.7h7.05v7.05h-7.05zM733.83 446.7h7.05v7.05h-7.05zM747.93 446.7h7.05v7.05h-7.05zM712.68 439.65h7.05v7.05h-7.05zM726.78 439.65h7.05v7.05h-7.05zM740.88 439.65h7.05v7.05h-7.05zM705.63 432.6h7.05v7.05h-7.05zM719.73 432.6h7.05v7.05h-7.05zM733.83 432.6h7.05v7.05h-7.05zM747.93 432.6h7.05v7.05h-7.05zM712.68 425.55h7.05v7.05h-7.05zM726.78 425.55h7.05v7.05h-7.05zM740.88 425.55h7.05v7.05h-7.05zM705.63 418.5h7.05v7.05h-7.05zM719.73 418.5h7.05v7.05h-7.05zM733.83 418.5h7.05v7.05h-7.05zM747.93 418.5h7.05v7.05h-7.05zM712.68 411.45h7.05v7.05h-7.05zM726.78 411.45h7.05v7.05h-7.05zM740.88 411.45h7.05v7.05h-7.05zM705.63 404.4h7.05v7.05h-7.05zM719.73 404.4h7.05v7.05h-7.05zM733.83 404.4h7.05v7.05h-7.05zM747.93 404.4h7.05v7.05h-7.05z" fill="#000"/><rect x="719.5" y="425" width="21.6" height="78.1" fill="none" stroke="#000" stroke-width="3"/><path d="M730.3 424V402.3" stroke="#000" stroke-width="2.6"/><path d="M724.15 402.3H736.45" stroke="#000" stroke-width="3" stroke-linecap="round"/><path clip-path="url(#c17)" d="M750.6 495.1H772.2" stroke="#000" stroke-width="1.4" fill="none"/><rect x="750.6" y="493.5" width="21.6" height="9.6" fill="none" stroke="#000" stroke-width="3"/><path d="M761.4 492.5V490.9" stroke="#000" stroke-width="2.6"/><path d="M755.25 490.9H767.55" stroke="#000" stroke-width="3" stroke-linecap="round"/><path clip-path="url(#c18)" d="M792.3 287.2V503.1" stroke="#000" stroke-width="1.4" fill="none"/><rect x="781.7" y="287.2" width="21.6" height="215.9" fill="none" stroke="#000" stroke-width="3"/><path d="M792.5 286.2V266.3" stroke="#000" stroke-width="2.6"/><path d="M786.35 266.3H798.65" stroke="#000" stroke-width="3" stroke-linecap="round"/><path d="M694.2 394.6H742.4" stroke="#000" stroke-width="3"/><text class="st" transform="translate(718.45 398.42) scale(1 0.86)" >*</text><path d="M756 258.3H805.4" stroke="#000" stroke-width="3"/><text class="st" transform="translate(784.15 261.92) scale(1 0.86)" letter-spacing="1.6">**</text><path d="M137.5 155.2V503.5" stroke="#000" stroke-width="2.8" fill="none"/><path d="M126 503.5H819" stroke="#000" stroke-width="2.8" fill="none"/><path d="M126 155.3H137.5" stroke="#000" stroke-width="2.8"/><text x="123.2" y="163.7" class="yl">0.04</text><path d="M126 242.5H137.5" stroke="#000" stroke-width="2.8"/><text x="123.2" y="250.9" class="yl">0.03</text><path d="M126 330H137.5" stroke="#000" stroke-width="2.8"/><text x="123.2" y="338.4" class="yl">0.02</text><path d="M126 417.5H137.5" stroke="#000" stroke-width="2.8"/><text x="123.2" y="425.9" class="yl">0.01</text><path d="M126 503.5H137.5" stroke="#000" stroke-width="2.8"/><text x="123.2" y="511.9" class="yl">0.00</text><path d="M205 503.5V515" stroke="#000" stroke-width="2.8"/><path d="M340.3 503.5V515" stroke="#000" stroke-width="2.8"/><path d="M475.6 503.5V515" stroke="#000" stroke-width="2.8"/><path d="M610.9 503.5V515" stroke="#000" stroke-width="2.8"/><path d="M746.2 503.5V515" stroke="#000" stroke-width="2.8"/><text class="xl" transform="translate(215.3 541.2) scale(0.953 0.947) rotate(-45)">Flavobacterium</text><text class="xl" transform="translate(350.6 541.2) scale(0.953 0.947) rotate(-45)">Arenimonas</text><text class="xl" transform="translate(485.9 541.2) scale(0.953 0.947) rotate(-45)">Rhodospirillaceae_NA</text><text class="xl" transform="translate(621.2 541.2) scale(0.953 0.947) rotate(-45)">Sphingobacteriaceae_NA</text><text class="xl" transform="translate(756.5 541.2) scale(0.953 0.947) rotate(-45)">Sorangium</text><text class="yt" style="font-size:27.6px" transform="translate(55 328) rotate(-90)" textLength="257.9" lengthAdjust="spacingAndGlyphs">Relative Abundance</text><text class="pl" style="font-size:59.5px" x="32.8" y="69.8">(a)</text><path clip-path="url(#c19)" d="M842.5 163.1h3.2v3.2h-3.2zM848.9 163.1h3.2v3.2h-3.2zM855.3 163.1h3.2v3.2h-3.2zM861.7 163.1h3.2v3.2h-3.2zM868.1 163.1h3.2v3.2h-3.2zM874.5 163.1h3.2v3.2h-3.2zM880.9 163.1h3.2v3.2h-3.2zM845.7 159.9h3.2v3.2h-3.2zM852.1 159.9h3.2v3.2h-3.2zM858.5 159.9h3.2v3.2h-3.2zM864.9 159.9h3.2v3.2h-3.2zM871.3 159.9h3.2v3.2h-3.2zM877.7 159.9h3.2v3.2h-3.2zM884.1 159.9h3.2v3.2h-3.2zM842.5 156.7h3.2v3.2h-3.2zM848.9 156.7h3.2v3.2h-3.2zM855.3 156.7h3.2v3.2h-3.2zM861.7 156.7h3.2v3.2h-3.2zM868.1 156.7h3.2v3.2h-3.2zM874.5 156.7h3.2v3.2h-3.2zM880.9 156.7h3.2v3.2h-3.2zM845.7 153.5h3.2v3.2h-3.2zM852.1 153.5h3.2v3.2h-3.2zM858.5 153.5h3.2v3.2h-3.2zM864.9 153.5h3.2v3.2h-3.2zM871.3 153.5h3.2v3.2h-3.2zM877.7 153.5h3.2v3.2h-3.2zM884.1 153.5h3.2v3.2h-3.2zM842.5 150.3h3.2v3.2h-3.2zM848.9 150.3h3.2v3.2h-3.2zM855.3 150.3h3.2v3.2h-3.2zM861.7 150.3h3.2v3.2h-3.2zM868.1 150.3h3.2v3.2h-3.2zM874.5 150.3h3.2v3.2h-3.2zM880.9 150.3h3.2v3.2h-3.2zM845.7 147.1h3.2v3.2h-3.2zM852.1 147.1h3.2v3.2h-3.2zM858.5 147.1h3.2v3.2h-3.2zM864.9 147.1h3.2v3.2h-3.2zM871.3 147.1h3.2v3.2h-3.2zM877.7 147.1h3.2v3.2h-3.2zM884.1 147.1h3.2v3.2h-3.2zM842.5 143.9h3.2v3.2h-3.2zM848.9 143.9h3.2v3.2h-3.2zM855.3 143.9h3.2v3.2h-3.2zM861.7 143.9h3.2v3.2h-3.2zM868.1 143.9h3.2v3.2h-3.2zM874.5 143.9h3.2v3.2h-3.2zM880.9 143.9h3.2v3.2h-3.2z" fill="#111"/><rect x="842.5" y="147.5" width="38.5" height="18.8" fill="none" stroke="#000" stroke-width="3" rx="0.8"/><text class="lg" style="font-size:30.5px" transform="translate(901.3 166.4) scale(0.912 1)">aCK</text><path clip-path="url(#c20)" d="M838.65 204.9h6.6v6.6h-6.6zM851.85 204.9h6.6v6.6h-6.6zM865.05 204.9h6.6v6.6h-6.6zM878.25 204.9h6.6v6.6h-6.6zM832.05 198.3h6.6v6.6h-6.6zM845.25 198.3h6.6v6.6h-6.6zM858.45 198.3h6.6v6.6h-6.6zM871.65 198.3h6.6v6.6h-6.6zM884.85 198.3h6.6v6.6h-6.6zM838.65 191.7h6.6v6.6h-6.6zM851.85 191.7h6.6v6.6h-6.6zM865.05 191.7h6.6v6.6h-6.6zM878.25 191.7h6.6v6.6h-6.6zM832.05 185.1h6.6v6.6h-6.6zM845.25 185.1h6.6v6.6h-6.6zM858.45 185.1h6.6v6.6h-6.6zM871.65 185.1h6.6v6.6h-6.6zM884.85 185.1h6.6v6.6h-6.6zM838.65 178.5h6.6v6.6h-6.6zM851.85 178.5h6.6v6.6h-6.6zM865.05 178.5h6.6v6.6h-6.6zM878.25 178.5h6.6v6.6h-6.6zM832.05 171.9h6.6v6.6h-6.6zM845.25 171.9h6.6v6.6h-6.6zM858.45 171.9h6.6v6.6h-6.6zM871.65 171.9h6.6v6.6h-6.6zM884.85 171.9h6.6v6.6h-6.6z" fill="#000"/><rect x="842.5" y="186.1" width="38.5" height="18.8" fill="none" stroke="#000" stroke-width="3" rx="0.8"/><text class="lg" style="font-size:30.5px" transform="translate(901.3 205.9) scale(0.912 1)">aT</text><path d="M842.5 236H881M842.5 244H881" stroke="#000" stroke-width="1.5"/><rect x="842.5" y="229.5" width="38.5" height="18.8" fill="none" stroke="#000" stroke-width="3" rx="0.8"/><text class="lg" style="font-size:30.5px" transform="translate(901.3 247.7) scale(0.912 1)">aF</text><path d="M850.7 269.9V288.7M861.8 269.9V288.7M871.4 269.9V288.7" stroke="#000" stroke-width="1.5"/><rect x="842.5" y="269.9" width="38.5" height="18.8" fill="none" stroke="#000" stroke-width="3" rx="0.8"/><text class="lg" style="font-size:30.5px" transform="translate(901.3 288.5) scale(0.912 1)">aTF</text></g>
<g><path clip-path="url(#c21)" d="M1204.5 499.8h3.6v3.6h-3.6zM1211.7 499.8h3.6v3.6h-3.6zM1218.9 499.8h3.6v3.6h-3.6zM1226.1 499.8h3.6v3.6h-3.6zM1233.3 499.8h3.6v3.6h-3.6zM1208.1 496.2h3.6v3.6h-3.6zM1215.3 496.2h3.6v3.6h-3.6zM1222.5 496.2h3.6v3.6h-3.6zM1229.7 496.2h3.6v3.6h-3.6zM1204.5 492.6h3.6v3.6h-3.6zM1211.7 492.6h3.6v3.6h-3.6zM1218.9 492.6h3.6v3.6h-3.6zM1226.1 492.6h3.6v3.6h-3.6zM1233.3 492.6h3.6v3.6h-3.6zM1208.1 489h3.6v3.6h-3.6zM1215.3 489h3.6v3.6h-3.6zM1222.5 489h3.6v3.6h-3.6zM1229.7 489h3.6v3.6h-3.6zM1204.5 485.4h3.6v3.6h-3.6zM1211.7 485.4h3.6v3.6h-3.6zM1218.9 485.4h3.6v3.6h-3.6zM1226.1 485.4h3.6v3.6h-3.6zM1233.3 485.4h3.6v3.6h-3.6zM1208.1 481.8h3.6v3.6h-3.6zM1215.3 481.8h3.6v3.6h-3.6zM1222.5 481.8h3.6v3.6h-3.6zM1229.7 481.8h3.6v3.6h-3.6zM1204.5 478.2h3.6v3.6h-3.6zM1211.7 478.2h3.6v3.6h-3.6zM1218.9 478.2h3.6v3.6h-3.6zM1226.1 478.2h3.6v3.6h-3.6zM1233.3 478.2h3.6v3.6h-3.6zM1208.1 474.6h3.6v3.6h-3.6zM1215.3 474.6h3.6v3.6h-3.6zM1222.5 474.6h3.6v3.6h-3.6zM1229.7 474.6h3.6v3.6h-3.6z" fill="#111"/><rect x="1204.5" y="480.5" width="27" height="22.9" fill="none" stroke="#000" stroke-width="3"/><path d="M1218 479.5V469" stroke="#000" stroke-width="2.6"/><path d="M1210.5 469H1225.5" stroke="#000" stroke-width="3" stroke-linecap="round"/><path clip-path="url(#c22)" d="M1235.5 503.4h7.2v7.2h-7.2zM1249.9 503.4h7.2v7.2h-7.2zM1264.3 503.4h7.2v7.2h-7.2zM1278.7 503.4h7.2v7.2h-7.2zM1242.7 496.2h7.2v7.2h-7.2zM1257.1 496.2h7.2v7.2h-7.2zM1271.5 496.2h7.2v7.2h-7.2zM1235.5 489h7.2v7.2h-7.2zM1249.9 489h7.2v7.2h-7.2zM1264.3 489h7.2v7.2h-7.2zM1278.7 489h7.2v7.2h-7.2zM1242.7 481.8h7.2v7.2h-7.2zM1257.1 481.8h7.2v7.2h-7.2zM1271.5 481.8h7.2v7.2h-7.2zM1235.5 474.6h7.2v7.2h-7.2zM1249.9 474.6h7.2v7.2h-7.2zM1264.3 474.6h7.2v7.2h-7.2zM1278.7 474.6h7.2v7.2h-7.2zM1242.7 467.4h7.2v7.2h-7.2zM1257.1 467.4h7.2v7.2h-7.2zM1271.5 467.4h7.2v7.2h-7.2zM1235.5 460.2h7.2v7.2h-7.2zM1249.9 460.2h7.2v7.2h-7.2zM1264.3 460.2h7.2v7.2h-7.2zM1278.7 460.2h7.2v7.2h-7.2zM1242.7 453h7.2v7.2h-7.2zM1257.1 453h7.2v7.2h-7.2zM1271.5 453h7.2v7.2h-7.2zM1235.5 445.8h7.2v7.2h-7.2zM1249.9 445.8h7.2v7.2h-7.2zM1264.3 445.8h7.2v7.2h-7.2zM1278.7 445.8h7.2v7.2h-7.2zM1242.7 438.6h7.2v7.2h-7.2zM1257.1 438.6h7.2v7.2h-7.2zM1271.5 438.6h7.2v7.2h-7.2zM1235.5 431.4h7.2v7.2h-7.2zM1249.9 431.4h7.2v7.2h-7.2zM1264.3 431.4h7.2v7.2h-7.2zM1278.7 431.4h7.2v7.2h-7.2zM1242.7 424.2h7.2v7.2h-7.2zM1257.1 424.2h7.2v7.2h-7.2zM1271.5 424.2h7.2v7.2h-7.2zM1235.5 417h7.2v7.2h-7.2zM1249.9 417h7.2v7.2h-7.2zM1264.3 417h7.2v7.2h-7.2zM1278.7 417h7.2v7.2h-7.2zM1242.7 409.8h7.2v7.2h-7.2zM1257.1 409.8h7.2v7.2h-7.2zM1271.5 409.8h7.2v7.2h-7.2zM1235.5 402.6h7.2v7.2h-7.2zM1249.9 402.6h7.2v7.2h-7.2zM1264.3 402.6h7.2v7.2h-7.2zM1278.7 402.6h7.2v7.2h-7.2zM1242.7 395.4h7.2v7.2h-7.2zM1257.1 395.4h7.2v7.2h-7.2zM1271.5 395.4h7.2v7.2h-7.2zM1235.5 388.2h7.2v7.2h-7.2zM1249.9 388.2h7.2v7.2h-7.2zM1264.3 388.2h7.2v7.2h-7.2zM1278.7 388.2h7.2v7.2h-7.2zM1242.7 381h7.2v7.2h-7.2zM1257.1 381h7.2v7.2h-7.2zM1271.5 381h7.2v7.2h-7.2zM1235.5 373.8h7.2v7.2h-7.2zM1249.9 373.8h7.2v7.2h-7.2zM1264.3 373.8h7.2v7.2h-7.2zM1278.7 373.8h7.2v7.2h-7.2zM1242.7 366.6h7.2v7.2h-7.2zM1257.1 366.6h7.2v7.2h-7.2zM1271.5 366.6h7.2v7.2h-7.2zM1235.5 359.4h7.2v7.2h-7.2zM1249.9 359.4h7.2v7.2h-7.2zM1264.3 359.4h7.2v7.2h-7.2zM1278.7 359.4h7.2v7.2h-7.2zM1242.7 352.2h7.2v7.2h-7.2zM1257.1 352.2h7.2v7.2h-7.2zM1271.5 352.2h7.2v7.2h-7.2zM1235.5 345h7.2v7.2h-7.2zM1249.9 345h7.2v7.2h-7.2zM1264.3 345h7.2v7.2h-7.2zM1278.7 345h7.2v7.2h-7.2z" fill="#000"/><rect x="1243.6" y="363.5" width="27" height="139.9" fill="none" stroke="#000" stroke-width="3"/><path d="M1257.1 362.5V338.3" stroke="#000" stroke-width="2.6"/><path d="M1249.6 338.3H1264.6" stroke="#000" stroke-width="3" stroke-linecap="round"/><path clip-path="url(#c23)" d="M1282.7 494H1309.7M1282.7 486.4H1309.7M1282.7 478.8H1309.7M1282.7 471.2H1309.7M1282.7 463.6H1309.7M1282.7 456H1309.7M1282.7 448.4H1309.7M1282.7 440.8H1309.7M1282.7 433.2H1309.7" stroke="#000" stroke-width="1.4" fill="none"/><rect x="1282.7" y="425.5" width="27" height="77.9" fill="none" stroke="#000" stroke-width="3"/><path d="M1296.2 424.5V422.4" stroke="#000" stroke-width="2.6"/><path d="M1288.7 422.4H1303.7" stroke="#000" stroke-width="3" stroke-linecap="round"/><path clip-path="url(#c24)" d="M1331.3 334.2V503.4M1340.8 334.2V503.4" stroke="#000" stroke-width="1.4" fill="none"/><rect x="1321.8" y="334.2" width="27" height="169.2" fill="none" stroke="#000" stroke-width="3"/><path d="M1335.3 333.2V301.2" stroke="#000" stroke-width="2.6"/><path d="M1327.8 301.2H1342.8" stroke="#000" stroke-width="3" stroke-linecap="round"/><path d="M1210.3 327.9H1270.2" stroke="#000" stroke-width="3"/><text class="st" transform="translate(1240 330.81) scale(1 0.89)" >*</text><path d="M1283.5 291H1343" stroke="#000" stroke-width="3"/><text class="st" transform="translate(1312.2 295.21) scale(1 0.89)" >*</text><path d="M1382 501.2H1396.6" stroke="#8a8a8a" stroke-width="1.6"/><path clip-path="url(#c25)" d="M1406.6 503.4h7.2v7.2h-7.2zM1421 503.4h7.2v7.2h-7.2zM1435.4 503.4h7.2v7.2h-7.2zM1449.8 503.4h7.2v7.2h-7.2zM1413.8 496.2h7.2v7.2h-7.2zM1428.2 496.2h7.2v7.2h-7.2zM1442.6 496.2h7.2v7.2h-7.2zM1406.6 489h7.2v7.2h-7.2zM1421 489h7.2v7.2h-7.2zM1435.4 489h7.2v7.2h-7.2zM1449.8 489h7.2v7.2h-7.2zM1413.8 481.8h7.2v7.2h-7.2zM1428.2 481.8h7.2v7.2h-7.2zM1442.6 481.8h7.2v7.2h-7.2zM1406.6 474.6h7.2v7.2h-7.2zM1421 474.6h7.2v7.2h-7.2zM1435.4 474.6h7.2v7.2h-7.2zM1449.8 474.6h7.2v7.2h-7.2zM1413.8 467.4h7.2v7.2h-7.2zM1428.2 467.4h7.2v7.2h-7.2zM1442.6 467.4h7.2v7.2h-7.2zM1406.6 460.2h7.2v7.2h-7.2zM1421 460.2h7.2v7.2h-7.2zM1435.4 460.2h7.2v7.2h-7.2zM1449.8 460.2h7.2v7.2h-7.2zM1413.8 453h7.2v7.2h-7.2zM1428.2 453h7.2v7.2h-7.2zM1442.6 453h7.2v7.2h-7.2zM1406.6 445.8h7.2v7.2h-7.2zM1421 445.8h7.2v7.2h-7.2zM1435.4 445.8h7.2v7.2h-7.2zM1449.8 445.8h7.2v7.2h-7.2zM1413.8 438.6h7.2v7.2h-7.2zM1428.2 438.6h7.2v7.2h-7.2zM1442.6 438.6h7.2v7.2h-7.2zM1406.6 431.4h7.2v7.2h-7.2zM1421 431.4h7.2v7.2h-7.2zM1435.4 431.4h7.2v7.2h-7.2zM1449.8 431.4h7.2v7.2h-7.2zM1413.8 424.2h7.2v7.2h-7.2zM1428.2 424.2h7.2v7.2h-7.2zM1442.6 424.2h7.2v7.2h-7.2zM1406.6 417h7.2v7.2h-7.2zM1421 417h7.2v7.2h-7.2zM1435.4 417h7.2v7.2h-7.2zM1449.8 417h7.2v7.2h-7.2zM1413.8 409.8h7.2v7.2h-7.2zM1428.2 409.8h7.2v7.2h-7.2zM1442.6 409.8h7.2v7.2h-7.2zM1406.6 402.6h7.2v7.2h-7.2zM1421 402.6h7.2v7.2h-7.2zM1435.4 402.6h7.2v7.2h-7.2zM1449.8 402.6h7.2v7.2h-7.2zM1413.8 395.4h7.2v7.2h-7.2zM1428.2 395.4h7.2v7.2h-7.2zM1442.6 395.4h7.2v7.2h-7.2zM1406.6 388.2h7.2v7.2h-7.2zM1421 388.2h7.2v7.2h-7.2zM1435.4 388.2h7.2v7.2h-7.2zM1449.8 388.2h7.2v7.2h-7.2zM1413.8 381h7.2v7.2h-7.2zM1428.2 381h7.2v7.2h-7.2zM1442.6 381h7.2v7.2h-7.2zM1406.6 373.8h7.2v7.2h-7.2zM1421 373.8h7.2v7.2h-7.2zM1435.4 373.8h7.2v7.2h-7.2zM1449.8 373.8h7.2v7.2h-7.2zM1413.8 366.6h7.2v7.2h-7.2zM1428.2 366.6h7.2v7.2h-7.2zM1442.6 366.6h7.2v7.2h-7.2zM1406.6 359.4h7.2v7.2h-7.2zM1421 359.4h7.2v7.2h-7.2zM1435.4 359.4h7.2v7.2h-7.2zM1449.8 359.4h7.2v7.2h-7.2z" fill="#000"/><rect x="1414.7" y="380.9" width="27" height="122.5" fill="none" stroke="#000" stroke-width="3"/><rect x="1453.8" y="502.2" width="27" height="1.2" fill="none" stroke="#000" stroke-width="3"/><path d="M1467.3 501.2V498.7" stroke="#000" stroke-width="2.6"/><path d="M1459.8 498.7H1474.8" stroke="#000" stroke-width="3" stroke-linecap="round"/><path clip-path="url(#c26)" d="M1502.4 286.5V503.4M1511.9 286.5V503.4" stroke="#000" stroke-width="1.4" fill="none"/><rect x="1492.9" y="286.5" width="27" height="216.9" fill="none" stroke="#000" stroke-width="3"/><path d="M1506.4 285.5V225.8" stroke="#000" stroke-width="2.6"/><path d="M1498.9 225.8H1513.9" stroke="#000" stroke-width="3" stroke-linecap="round"/><path d="M1382 370.5H1441.6" stroke="#000" stroke-width="3"/><text class="st" transform="translate(1412.8 375.41) scale(1 0.89)" letter-spacing="1.6">**</text><path d="M1456.8 216.5H1514.5" stroke="#000" stroke-width="3"/><text class="st" transform="translate(1484.6 220.51) scale(1 0.89)" >*</text><path clip-path="url(#c27)" d="M1546.7 499.8h3.6v3.6h-3.6zM1553.9 499.8h3.6v3.6h-3.6zM1561.1 499.8h3.6v3.6h-3.6zM1568.3 499.8h3.6v3.6h-3.6zM1575.5 499.8h3.6v3.6h-3.6zM1550.3 496.2h3.6v3.6h-3.6zM1557.5 496.2h3.6v3.6h-3.6zM1564.7 496.2h3.6v3.6h-3.6zM1571.9 496.2h3.6v3.6h-3.6zM1546.7 492.6h3.6v3.6h-3.6zM1553.9 492.6h3.6v3.6h-3.6zM1561.1 492.6h3.6v3.6h-3.6zM1568.3 492.6h3.6v3.6h-3.6zM1575.5 492.6h3.6v3.6h-3.6zM1550.3 489h3.6v3.6h-3.6zM1557.5 489h3.6v3.6h-3.6zM1564.7 489h3.6v3.6h-3.6zM1571.9 489h3.6v3.6h-3.6zM1546.7 485.4h3.6v3.6h-3.6zM1553.9 485.4h3.6v3.6h-3.6zM1561.1 485.4h3.6v3.6h-3.6zM1568.3 485.4h3.6v3.6h-3.6zM1575.5 485.4h3.6v3.6h-3.6zM1550.3 481.8h3.6v3.6h-3.6zM1557.5 481.8h3.6v3.6h-3.6zM1564.7 481.8h3.6v3.6h-3.6zM1571.9 481.8h3.6v3.6h-3.6zM1546.7 478.2h3.6v3.6h-3.6zM1553.9 478.2h3.6v3.6h-3.6zM1561.1 478.2h3.6v3.6h-3.6zM1568.3 478.2h3.6v3.6h-3.6zM1575.5 478.2h3.6v3.6h-3.6zM1550.3 474.6h3.6v3.6h-3.6zM1557.5 474.6h3.6v3.6h-3.6zM1564.7 474.6h3.6v3.6h-3.6zM1571.9 474.6h3.6v3.6h-3.6zM1546.7 471h3.6v3.6h-3.6zM1553.9 471h3.6v3.6h-3.6zM1561.1 471h3.6v3.6h-3.6zM1568.3 471h3.6v3.6h-3.6zM1575.5 471h3.6v3.6h-3.6zM1550.3 467.4h3.6v3.6h-3.6zM1557.5 467.4h3.6v3.6h-3.6zM1564.7 467.4h3.6v3.6h-3.6zM1571.9 467.4h3.6v3.6h-3.6zM1546.7 463.8h3.6v3.6h-3.6zM1553.9 463.8h3.6v3.6h-3.6zM1561.1 463.8h3.6v3.6h-3.6zM1568.3 463.8h3.6v3.6h-3.6zM1575.5 463.8h3.6v3.6h-3.6zM1550.3 460.2h3.6v3.6h-3.6zM1557.5 460.2h3.6v3.6h-3.6zM1564.7 460.2h3.6v3.6h-3.6zM1571.9 460.2h3.6v3.6h-3.6zM1546.7 456.6h3.6v3.6h-3.6zM1553.9 456.6h3.6v3.6h-3.6zM1561.1 456.6h3.6v3.6h-3.6zM1568.3 456.6h3.6v3.6h-3.6zM1575.5 456.6h3.6v3.6h-3.6zM1550.3 453h3.6v3.6h-3.6zM1557.5 453h3.6v3.6h-3.6zM1564.7 453h3.6v3.6h-3.6zM1571.9 453h3.6v3.6h-3.6zM1546.7 449.4h3.6v3.6h-3.6zM1553.9 449.4h3.6v3.6h-3.6zM1561.1 449.4h3.6v3.6h-3.6zM1568.3 449.4h3.6v3.6h-3.6zM1575.5 449.4h3.6v3.6h-3.6zM1550.3 445.8h3.6v3.6h-3.6zM1557.5 445.8h3.6v3.6h-3.6zM1564.7 445.8h3.6v3.6h-3.6zM1571.9 445.8h3.6v3.6h-3.6zM1546.7 442.2h3.6v3.6h-3.6zM1553.9 442.2h3.6v3.6h-3.6zM1561.1 442.2h3.6v3.6h-3.6zM1568.3 442.2h3.6v3.6h-3.6zM1575.5 442.2h3.6v3.6h-3.6zM1550.3 438.6h3.6v3.6h-3.6zM1557.5 438.6h3.6v3.6h-3.6zM1564.7 438.6h3.6v3.6h-3.6zM1571.9 438.6h3.6v3.6h-3.6zM1546.7 435h3.6v3.6h-3.6zM1553.9 435h3.6v3.6h-3.6zM1561.1 435h3.6v3.6h-3.6zM1568.3 435h3.6v3.6h-3.6zM1575.5 435h3.6v3.6h-3.6zM1550.3 431.4h3.6v3.6h-3.6zM1557.5 431.4h3.6v3.6h-3.6zM1564.7 431.4h3.6v3.6h-3.6zM1571.9 431.4h3.6v3.6h-3.6zM1546.7 427.8h3.6v3.6h-3.6zM1553.9 427.8h3.6v3.6h-3.6zM1561.1 427.8h3.6v3.6h-3.6zM1568.3 427.8h3.6v3.6h-3.6zM1575.5 427.8h3.6v3.6h-3.6zM1550.3 424.2h3.6v3.6h-3.6zM1557.5 424.2h3.6v3.6h-3.6zM1564.7 424.2h3.6v3.6h-3.6zM1571.9 424.2h3.6v3.6h-3.6zM1546.7 420.6h3.6v3.6h-3.6zM1553.9 420.6h3.6v3.6h-3.6zM1561.1 420.6h3.6v3.6h-3.6zM1568.3 420.6h3.6v3.6h-3.6zM1575.5 420.6h3.6v3.6h-3.6z" fill="#111"/><rect x="1546.7" y="424.6" width="27" height="78.8" fill="none" stroke="#000" stroke-width="3"/><path d="M1560.2 423.6V419.8" stroke="#000" stroke-width="2.6"/><path d="M1552.7 419.8H1567.7" stroke="#000" stroke-width="3" stroke-linecap="round"/><path clip-path="url(#c28)" d="M1577.7 503.4h7.2v7.2h-7.2zM1592.1 503.4h7.2v7.2h-7.2zM1606.5 503.4h7.2v7.2h-7.2zM1620.9 503.4h7.2v7.2h-7.2zM1584.9 496.2h7.2v7.2h-7.2zM1599.3 496.2h7.2v7.2h-7.2zM1613.7 496.2h7.2v7.2h-7.2zM1577.7 489h7.2v7.2h-7.2zM1592.1 489h7.2v7.2h-7.2zM1606.5 489h7.2v7.2h-7.2zM1620.9 489h7.2v7.2h-7.2zM1584.9 481.8h7.2v7.2h-7.2zM1599.3 481.8h7.2v7.2h-7.2zM1613.7 481.8h7.2v7.2h-7.2zM1577.7 474.6h7.2v7.2h-7.2zM1592.1 474.6h7.2v7.2h-7.2zM1606.5 474.6h7.2v7.2h-7.2zM1620.9 474.6h7.2v7.2h-7.2zM1584.9 467.4h7.2v7.2h-7.2zM1599.3 467.4h7.2v7.2h-7.2zM1613.7 467.4h7.2v7.2h-7.2zM1577.7 460.2h7.2v7.2h-7.2zM1592.1 460.2h7.2v7.2h-7.2zM1606.5 460.2h7.2v7.2h-7.2zM1620.9 460.2h7.2v7.2h-7.2zM1584.9 453h7.2v7.2h-7.2zM1599.3 453h7.2v7.2h-7.2zM1613.7 453h7.2v7.2h-7.2zM1577.7 445.8h7.2v7.2h-7.2zM1592.1 445.8h7.2v7.2h-7.2zM1606.5 445.8h7.2v7.2h-7.2zM1620.9 445.8h7.2v7.2h-7.2zM1584.9 438.6h7.2v7.2h-7.2zM1599.3 438.6h7.2v7.2h-7.2zM1613.7 438.6h7.2v7.2h-7.2zM1577.7 431.4h7.2v7.2h-7.2zM1592.1 431.4h7.2v7.2h-7.2zM1606.5 431.4h7.2v7.2h-7.2zM1620.9 431.4h7.2v7.2h-7.2zM1584.9 424.2h7.2v7.2h-7.2zM1599.3 424.2h7.2v7.2h-7.2zM1613.7 424.2h7.2v7.2h-7.2zM1577.7 417h7.2v7.2h-7.2zM1592.1 417h7.2v7.2h-7.2zM1606.5 417h7.2v7.2h-7.2zM1620.9 417h7.2v7.2h-7.2zM1584.9 409.8h7.2v7.2h-7.2zM1599.3 409.8h7.2v7.2h-7.2zM1613.7 409.8h7.2v7.2h-7.2zM1577.7 402.6h7.2v7.2h-7.2zM1592.1 402.6h7.2v7.2h-7.2zM1606.5 402.6h7.2v7.2h-7.2zM1620.9 402.6h7.2v7.2h-7.2zM1584.9 395.4h7.2v7.2h-7.2zM1599.3 395.4h7.2v7.2h-7.2zM1613.7 395.4h7.2v7.2h-7.2zM1577.7 388.2h7.2v7.2h-7.2zM1592.1 388.2h7.2v7.2h-7.2zM1606.5 388.2h7.2v7.2h-7.2zM1620.9 388.2h7.2v7.2h-7.2zM1584.9 381h7.2v7.2h-7.2zM1599.3 381h7.2v7.2h-7.2zM1613.7 381h7.2v7.2h-7.2zM1577.7 373.8h7.2v7.2h-7.2zM1592.1 373.8h7.2v7.2h-7.2zM1606.5 373.8h7.2v7.2h-7.2zM1620.9 373.8h7.2v7.2h-7.2zM1584.9 366.6h7.2v7.2h-7.2zM1599.3 366.6h7.2v7.2h-7.2zM1613.7 366.6h7.2v7.2h-7.2z" fill="#000"/><rect x="1585.8" y="387.5" width="27" height="115.9" fill="none" stroke="#000" stroke-width="3"/><path d="M1599.3 386.5V378.9" stroke="#000" stroke-width="2.6"/><path d="M1591.8 378.9H1606.8" stroke="#000" stroke-width="3" stroke-linecap="round"/><path clip-path="url(#c29)" d="M1624.9 494H1651.9M1624.9 486.4H1651.9M1624.9 478.8H1651.9M1624.9 471.2H1651.9M1624.9 463.6H1651.9M1624.9 456H1651.9M1624.9 448.4H1651.9M1624.9 440.8H1651.9M1624.9 433.2H1651.9M1624.9 425.6H1651.9M1624.9 418H1651.9M1624.9 410.4H1651.9M1624.9 402.8H1651.9M1624.9 395.2H1651.9M1624.9 387.6H1651.9M1624.9 380H1651.9M1624.9 372.4H1651.9M1624.9 364.8H1651.9M1624.9 357.2H1651.9" stroke="#000" stroke-width="1.4" fill="none"/><rect x="1624.9" y="355.2" width="27" height="148.2" fill="none" stroke="#000" stroke-width="3"/><path d="M1638.4 354.2V349.9" stroke="#000" stroke-width="2.6"/><path d="M1630.9 349.9H1645.9" stroke="#000" stroke-width="3" stroke-linecap="round"/><path clip-path="url(#c30)" d="M1673.5 328.6V503.4M1683 328.6V503.4" stroke="#000" stroke-width="1.4" fill="none"/><rect x="1664" y="328.6" width="27" height="174.8" fill="none" stroke="#000" stroke-width="3"/><path d="M1677.5 327.6V324.4" stroke="#000" stroke-width="2.6"/><path d="M1670 324.4H1685" stroke="#000" stroke-width="3" stroke-linecap="round"/><path d="M1548.7 370.5H1608.3" stroke="#000" stroke-width="3"/><text class="st" transform="translate(1577.4 373.01) scale(1 0.89)" >*</text><path d="M1628 314.6H1686.5" stroke="#000" stroke-width="3"/><text class="st" transform="translate(1658.1 320.11) scale(1 0.89)" >*</text><path clip-path="url(#c31)" d="M1717.8 499.8h3.6v3.6h-3.6zM1725 499.8h3.6v3.6h-3.6zM1732.2 499.8h3.6v3.6h-3.6zM1739.4 499.8h3.6v3.6h-3.6zM1746.6 499.8h3.6v3.6h-3.6zM1721.4 496.2h3.6v3.6h-3.6zM1728.6 496.2h3.6v3.6h-3.6zM1735.8 496.2h3.6v3.6h-3.6zM1743 496.2h3.6v3.6h-3.6zM1717.8 492.6h3.6v3.6h-3.6zM1725 492.6h3.6v3.6h-3.6zM1732.2 492.6h3.6v3.6h-3.6zM1739.4 492.6h3.6v3.6h-3.6zM1746.6 492.6h3.6v3.6h-3.6zM1721.4 489h3.6v3.6h-3.6zM1728.6 489h3.6v3.6h-3.6zM1735.8 489h3.6v3.6h-3.6zM1743 489h3.6v3.6h-3.6zM1717.8 485.4h3.6v3.6h-3.6zM1725 485.4h3.6v3.6h-3.6zM1732.2 485.4h3.6v3.6h-3.6zM1739.4 485.4h3.6v3.6h-3.6zM1746.6 485.4h3.6v3.6h-3.6zM1721.4 481.8h3.6v3.6h-3.6zM1728.6 481.8h3.6v3.6h-3.6zM1735.8 481.8h3.6v3.6h-3.6zM1743 481.8h3.6v3.6h-3.6zM1717.8 478.2h3.6v3.6h-3.6zM1725 478.2h3.6v3.6h-3.6zM1732.2 478.2h3.6v3.6h-3.6zM1739.4 478.2h3.6v3.6h-3.6zM1746.6 478.2h3.6v3.6h-3.6zM1721.4 474.6h3.6v3.6h-3.6zM1728.6 474.6h3.6v3.6h-3.6zM1735.8 474.6h3.6v3.6h-3.6zM1743 474.6h3.6v3.6h-3.6zM1717.8 471h3.6v3.6h-3.6zM1725 471h3.6v3.6h-3.6zM1732.2 471h3.6v3.6h-3.6zM1739.4 471h3.6v3.6h-3.6zM1746.6 471h3.6v3.6h-3.6zM1721.4 467.4h3.6v3.6h-3.6zM1728.6 467.4h3.6v3.6h-3.6zM1735.8 467.4h3.6v3.6h-3.6zM1743 467.4h3.6v3.6h-3.6zM1717.8 463.8h3.6v3.6h-3.6zM1725 463.8h3.6v3.6h-3.6zM1732.2 463.8h3.6v3.6h-3.6zM1739.4 463.8h3.6v3.6h-3.6zM1746.6 463.8h3.6v3.6h-3.6zM1721.4 460.2h3.6v3.6h-3.6zM1728.6 460.2h3.6v3.6h-3.6zM1735.8 460.2h3.6v3.6h-3.6zM1743 460.2h3.6v3.6h-3.6zM1717.8 456.6h3.6v3.6h-3.6zM1725 456.6h3.6v3.6h-3.6zM1732.2 456.6h3.6v3.6h-3.6zM1739.4 456.6h3.6v3.6h-3.6zM1746.6 456.6h3.6v3.6h-3.6zM1721.4 453h3.6v3.6h-3.6zM1728.6 453h3.6v3.6h-3.6zM1735.8 453h3.6v3.6h-3.6zM1743 453h3.6v3.6h-3.6zM1717.8 449.4h3.6v3.6h-3.6zM1725 449.4h3.6v3.6h-3.6zM1732.2 449.4h3.6v3.6h-3.6zM1739.4 449.4h3.6v3.6h-3.6zM1746.6 449.4h3.6v3.6h-3.6zM1721.4 445.8h3.6v3.6h-3.6zM1728.6 445.8h3.6v3.6h-3.6zM1735.8 445.8h3.6v3.6h-3.6zM1743 445.8h3.6v3.6h-3.6z" fill="#111"/><rect x="1717.8" y="450.2" width="27" height="53.2" fill="none" stroke="#000" stroke-width="3"/><path d="M1731.3 449.2V444.9" stroke="#000" stroke-width="2.6"/><path d="M1723.8 444.9H1738.8" stroke="#000" stroke-width="3" stroke-linecap="round"/><path clip-path="url(#c32)" d="M1748.8 503.4h7.2v7.2h-7.2zM1763.2 503.4h7.2v7.2h-7.2zM1777.6 503.4h7.2v7.2h-7.2zM1792 503.4h7.2v7.2h-7.2zM1756 496.2h7.2v7.2h-7.2zM1770.4 496.2h7.2v7.2h-7.2zM1784.8 496.2h7.2v7.2h-7.2zM1748.8 489h7.2v7.2h-7.2zM1763.2 489h7.2v7.2h-7.2zM1777.6 489h7.2v7.2h-7.2zM1792 489h7.2v7.2h-7.2zM1756 481.8h7.2v7.2h-7.2zM1770.4 481.8h7.2v7.2h-7.2zM1784.8 481.8h7.2v7.2h-7.2zM1748.8 474.6h7.2v7.2h-7.2zM1763.2 474.6h7.2v7.2h-7.2zM1777.6 474.6h7.2v7.2h-7.2zM1792 474.6h7.2v7.2h-7.2zM1756 467.4h7.2v7.2h-7.2zM1770.4 467.4h7.2v7.2h-7.2zM1784.8 467.4h7.2v7.2h-7.2zM1748.8 460.2h7.2v7.2h-7.2zM1763.2 460.2h7.2v7.2h-7.2zM1777.6 460.2h7.2v7.2h-7.2zM1792 460.2h7.2v7.2h-7.2zM1756 453h7.2v7.2h-7.2zM1770.4 453h7.2v7.2h-7.2zM1784.8 453h7.2v7.2h-7.2zM1748.8 445.8h7.2v7.2h-7.2zM1763.2 445.8h7.2v7.2h-7.2zM1777.6 445.8h7.2v7.2h-7.2zM1792 445.8h7.2v7.2h-7.2zM1756 438.6h7.2v7.2h-7.2zM1770.4 438.6h7.2v7.2h-7.2zM1784.8 438.6h7.2v7.2h-7.2zM1748.8 431.4h7.2v7.2h-7.2zM1763.2 431.4h7.2v7.2h-7.2zM1777.6 431.4h7.2v7.2h-7.2zM1792 431.4h7.2v7.2h-7.2zM1756 424.2h7.2v7.2h-7.2zM1770.4 424.2h7.2v7.2h-7.2zM1784.8 424.2h7.2v7.2h-7.2zM1748.8 417h7.2v7.2h-7.2zM1763.2 417h7.2v7.2h-7.2zM1777.6 417h7.2v7.2h-7.2zM1792 417h7.2v7.2h-7.2zM1756 409.8h7.2v7.2h-7.2zM1770.4 409.8h7.2v7.2h-7.2zM1784.8 409.8h7.2v7.2h-7.2zM1748.8 402.6h7.2v7.2h-7.2zM1763.2 402.6h7.2v7.2h-7.2zM1777.6 402.6h7.2v7.2h-7.2zM1792 402.6h7.2v7.2h-7.2z" fill="#000"/><rect x="1756.9" y="424.1" width="27" height="79.3" fill="none" stroke="#000" stroke-width="3"/><path d="M1770.4 423.1V421.6" stroke="#000" stroke-width="2.6"/><path d="M1762.9 421.6H1777.9" stroke="#000" stroke-width="3" stroke-linecap="round"/><path clip-path="url(#c33)" d="M1796 494H1823M1796 486.4H1823M1796 478.8H1823M1796 471.2H1823M1796 463.6H1823M1796 456H1823" stroke="#000" stroke-width="1.4" fill="none"/><rect x="1796" y="448.8" width="27" height="54.6" fill="none" stroke="#000" stroke-width="3"/><path d="M1809.5 447.8V437.7" stroke="#000" stroke-width="2.6"/><path d="M1802 437.7H1817" stroke="#000" stroke-width="3" stroke-linecap="round"/><path clip-path="url(#c34)" d="M1844.6 416.2V503.4M1854.1 416.2V503.4" stroke="#000" stroke-width="1.4" fill="none"/><rect x="1835.1" y="416.2" width="27" height="87.2" fill="none" stroke="#000" stroke-width="3"/><path d="M1848.6 415.2V409.9" stroke="#000" stroke-width="2.6"/><path d="M1841.1 409.9H1856.1" stroke="#000" stroke-width="3" stroke-linecap="round"/><path d="M1719 410.2H1778.3" stroke="#000" stroke-width="3"/><text class="st" transform="translate(1745.6 411.91) scale(1 0.89)" >*</text><path d="M1797 398.9H1855.4" stroke="#000" stroke-width="3"/><text class="st" transform="translate(1827 402.61) scale(1 0.89)" >*</text><path d="M1191.8 139.9V503.8" stroke="#000" stroke-width="2.8" fill="none"/><path d="M1179.7 503.8H1879" stroke="#000" stroke-width="2.8" fill="none"/><path d="M1179.7 140H1191.8" stroke="#000" stroke-width="2.8"/><text x="1176.5" y="148.4" class="yl">0.010</text><path d="M1179.7 213.5H1191.8" stroke="#000" stroke-width="2.8"/><text x="1176.5" y="221.9" class="yl">0.008</text><path d="M1179.7 286.2H1191.8" stroke="#000" stroke-width="2.8"/><text x="1176.5" y="294.6" class="yl">0.006</text><path d="M1179.7 359.2H1191.8" stroke="#000" stroke-width="2.8"/><text x="1176.5" y="367.6" class="yl">0.004</text><path d="M1179.7 431.5H1191.8" stroke="#000" stroke-width="2.8"/><text x="1176.5" y="439.9" class="yl">0.002</text><path d="M1179.7 503.8H1191.8" stroke="#000" stroke-width="2.8"/><text x="1176.5" y="512.2" class="yl">0.000</text><path d="M1276.8 503.8V515.3" stroke="#000" stroke-width="2.8"/><path d="M1447.9 503.8V515.3" stroke="#000" stroke-width="2.8"/><path d="M1619 503.8V515.3" stroke="#000" stroke-width="2.8"/><path d="M1790.1 503.8V515.3" stroke="#000" stroke-width="2.8"/><text class="xl" transform="translate(1287.2 543) scale(0.965 0.997) rotate(-45)">Pseudoxanthomonas</text><text class="xl" transform="translate(1458.3 543) scale(0.965 0.997) rotate(-45)">Klebsiella</text><text class="xl" transform="translate(1629.4 543) scale(0.965 0.997) rotate(-45)">Phenylobacterium</text><text class="xl" transform="translate(1800.5 543) scale(0.965 0.997) rotate(-45)">Comamonadaceae_NA</text><text class="yt" style="font-size:29px" transform="translate(1094.8 321.3) rotate(-90)" textLength="270.2" lengthAdjust="spacingAndGlyphs">Relative Abundance</text><text class="pl" style="font-size:59.5px" x="1061.5" y="47.8">(b)</text><path clip-path="url(#c35)" d="M1878.1 150.1h3.2v3.2h-3.2zM1884.5 150.1h3.2v3.2h-3.2zM1890.9 150.1h3.2v3.2h-3.2zM1897.3 150.1h3.2v3.2h-3.2zM1903.7 150.1h3.2v3.2h-3.2zM1910.1 150.1h3.2v3.2h-3.2zM1916.5 150.1h3.2v3.2h-3.2zM1881.3 146.9h3.2v3.2h-3.2zM1887.7 146.9h3.2v3.2h-3.2zM1894.1 146.9h3.2v3.2h-3.2zM1900.5 146.9h3.2v3.2h-3.2zM1906.9 146.9h3.2v3.2h-3.2zM1913.3 146.9h3.2v3.2h-3.2zM1919.7 146.9h3.2v3.2h-3.2zM1878.1 143.7h3.2v3.2h-3.2zM1884.5 143.7h3.2v3.2h-3.2zM1890.9 143.7h3.2v3.2h-3.2zM1897.3 143.7h3.2v3.2h-3.2zM1903.7 143.7h3.2v3.2h-3.2zM1910.1 143.7h3.2v3.2h-3.2zM1916.5 143.7h3.2v3.2h-3.2zM1881.3 140.5h3.2v3.2h-3.2zM1887.7 140.5h3.2v3.2h-3.2zM1894.1 140.5h3.2v3.2h-3.2zM1900.5 140.5h3.2v3.2h-3.2zM1906.9 140.5h3.2v3.2h-3.2zM1913.3 140.5h3.2v3.2h-3.2zM1919.7 140.5h3.2v3.2h-3.2zM1878.1 137.3h3.2v3.2h-3.2zM1884.5 137.3h3.2v3.2h-3.2zM1890.9 137.3h3.2v3.2h-3.2zM1897.3 137.3h3.2v3.2h-3.2zM1903.7 137.3h3.2v3.2h-3.2zM1910.1 137.3h3.2v3.2h-3.2zM1916.5 137.3h3.2v3.2h-3.2zM1881.3 134.1h3.2v3.2h-3.2zM1887.7 134.1h3.2v3.2h-3.2zM1894.1 134.1h3.2v3.2h-3.2zM1900.5 134.1h3.2v3.2h-3.2zM1906.9 134.1h3.2v3.2h-3.2zM1913.3 134.1h3.2v3.2h-3.2zM1919.7 134.1h3.2v3.2h-3.2zM1878.1 130.9h3.2v3.2h-3.2zM1884.5 130.9h3.2v3.2h-3.2zM1890.9 130.9h3.2v3.2h-3.2zM1897.3 130.9h3.2v3.2h-3.2zM1903.7 130.9h3.2v3.2h-3.2zM1910.1 130.9h3.2v3.2h-3.2zM1916.5 130.9h3.2v3.2h-3.2zM1881.3 127.7h3.2v3.2h-3.2zM1887.7 127.7h3.2v3.2h-3.2zM1894.1 127.7h3.2v3.2h-3.2zM1900.5 127.7h3.2v3.2h-3.2zM1906.9 127.7h3.2v3.2h-3.2zM1913.3 127.7h3.2v3.2h-3.2zM1919.7 127.7h3.2v3.2h-3.2z" fill="#111"/><rect x="1878.1" y="132.8" width="38.5" height="20.5" fill="none" stroke="#000" stroke-width="3" rx="0.8"/><text class="lg" style="font-size:34px" transform="translate(1936.4 153.7) scale(0.864 1)">bCK</text><path clip-path="url(#c36)" d="M1874.25 193.6h6.6v6.6h-6.6zM1887.45 193.6h6.6v6.6h-6.6zM1900.65 193.6h6.6v6.6h-6.6zM1913.85 193.6h6.6v6.6h-6.6zM1867.65 187h6.6v6.6h-6.6zM1880.85 187h6.6v6.6h-6.6zM1894.05 187h6.6v6.6h-6.6zM1907.25 187h6.6v6.6h-6.6zM1920.45 187h6.6v6.6h-6.6zM1874.25 180.4h6.6v6.6h-6.6zM1887.45 180.4h6.6v6.6h-6.6zM1900.65 180.4h6.6v6.6h-6.6zM1913.85 180.4h6.6v6.6h-6.6zM1867.65 173.8h6.6v6.6h-6.6zM1880.85 173.8h6.6v6.6h-6.6zM1894.05 173.8h6.6v6.6h-6.6zM1907.25 173.8h6.6v6.6h-6.6zM1920.45 173.8h6.6v6.6h-6.6zM1874.25 167.2h6.6v6.6h-6.6zM1887.45 167.2h6.6v6.6h-6.6zM1900.65 167.2h6.6v6.6h-6.6zM1913.85 167.2h6.6v6.6h-6.6zM1867.65 160.6h6.6v6.6h-6.6zM1880.85 160.6h6.6v6.6h-6.6zM1894.05 160.6h6.6v6.6h-6.6zM1907.25 160.6h6.6v6.6h-6.6zM1920.45 160.6h6.6v6.6h-6.6zM1874.25 154h6.6v6.6h-6.6zM1887.45 154h6.6v6.6h-6.6zM1900.65 154h6.6v6.6h-6.6zM1913.85 154h6.6v6.6h-6.6z" fill="#000"/><rect x="1878.1" y="173.1" width="38.5" height="20.5" fill="none" stroke="#000" stroke-width="3" rx="0.8"/><text class="lg" style="font-size:34px" transform="translate(1936.4 193) scale(0.864 1)">bT</text><path d="M1878.1 225.6H1916.6M1878.1 233.3H1916.6" stroke="#000" stroke-width="1.5"/><rect x="1878.1" y="218.2" width="38.5" height="20.5" fill="none" stroke="#000" stroke-width="3" rx="0.8"/><text class="lg" style="font-size:34px" transform="translate(1936.4 237.4) scale(0.864 1)">bF</text><path d="M1887.3 260.3V280.8M1897.9 260.3V280.8M1908 260.3V280.8" stroke="#000" stroke-width="1.5"/><rect x="1878.1" y="260.3" width="38.5" height="20.5" fill="none" stroke="#000" stroke-width="3" rx="0.8"/><text class="lg" style="font-size:34px" transform="translate(1936.4 280.7) scale(0.864 1)">bTF</text></g>
<g><path clip-path="url(#c37)" d="M148.45 1376.9h3.7v3.7h-3.7zM155.85 1376.9h3.7v3.7h-3.7zM163.25 1376.9h3.7v3.7h-3.7zM170.65 1376.9h3.7v3.7h-3.7zM178.05 1376.9h3.7v3.7h-3.7zM185.45 1376.9h3.7v3.7h-3.7zM152.15 1373.2h3.7v3.7h-3.7zM159.55 1373.2h3.7v3.7h-3.7zM166.95 1373.2h3.7v3.7h-3.7zM174.35 1373.2h3.7v3.7h-3.7zM181.75 1373.2h3.7v3.7h-3.7zM148.45 1369.5h3.7v3.7h-3.7zM155.85 1369.5h3.7v3.7h-3.7zM163.25 1369.5h3.7v3.7h-3.7zM170.65 1369.5h3.7v3.7h-3.7zM178.05 1369.5h3.7v3.7h-3.7zM185.45 1369.5h3.7v3.7h-3.7zM152.15 1365.8h3.7v3.7h-3.7zM159.55 1365.8h3.7v3.7h-3.7zM166.95 1365.8h3.7v3.7h-3.7zM174.35 1365.8h3.7v3.7h-3.7zM181.75 1365.8h3.7v3.7h-3.7zM148.45 1362.1h3.7v3.7h-3.7zM155.85 1362.1h3.7v3.7h-3.7zM163.25 1362.1h3.7v3.7h-3.7zM170.65 1362.1h3.7v3.7h-3.7zM178.05 1362.1h3.7v3.7h-3.7zM185.45 1362.1h3.7v3.7h-3.7zM152.15 1358.4h3.7v3.7h-3.7zM159.55 1358.4h3.7v3.7h-3.7zM166.95 1358.4h3.7v3.7h-3.7zM174.35 1358.4h3.7v3.7h-3.7zM181.75 1358.4h3.7v3.7h-3.7zM148.45 1354.7h3.7v3.7h-3.7zM155.85 1354.7h3.7v3.7h-3.7zM163.25 1354.7h3.7v3.7h-3.7zM170.65 1354.7h3.7v3.7h-3.7zM178.05 1354.7h3.7v3.7h-3.7zM185.45 1354.7h3.7v3.7h-3.7zM152.15 1351h3.7v3.7h-3.7zM159.55 1351h3.7v3.7h-3.7zM166.95 1351h3.7v3.7h-3.7zM174.35 1351h3.7v3.7h-3.7zM181.75 1351h3.7v3.7h-3.7zM148.45 1347.3h3.7v3.7h-3.7zM155.85 1347.3h3.7v3.7h-3.7zM163.25 1347.3h3.7v3.7h-3.7zM170.65 1347.3h3.7v3.7h-3.7zM178.05 1347.3h3.7v3.7h-3.7zM185.45 1347.3h3.7v3.7h-3.7zM152.15 1343.6h3.7v3.7h-3.7zM159.55 1343.6h3.7v3.7h-3.7zM166.95 1343.6h3.7v3.7h-3.7zM174.35 1343.6h3.7v3.7h-3.7zM181.75 1343.6h3.7v3.7h-3.7zM148.45 1339.9h3.7v3.7h-3.7zM155.85 1339.9h3.7v3.7h-3.7zM163.25 1339.9h3.7v3.7h-3.7zM170.65 1339.9h3.7v3.7h-3.7zM178.05 1339.9h3.7v3.7h-3.7zM185.45 1339.9h3.7v3.7h-3.7zM152.15 1336.2h3.7v3.7h-3.7zM159.55 1336.2h3.7v3.7h-3.7zM166.95 1336.2h3.7v3.7h-3.7zM174.35 1336.2h3.7v3.7h-3.7zM181.75 1336.2h3.7v3.7h-3.7zM148.45 1332.5h3.7v3.7h-3.7zM155.85 1332.5h3.7v3.7h-3.7zM163.25 1332.5h3.7v3.7h-3.7zM170.65 1332.5h3.7v3.7h-3.7zM178.05 1332.5h3.7v3.7h-3.7zM185.45 1332.5h3.7v3.7h-3.7zM152.15 1328.8h3.7v3.7h-3.7zM159.55 1328.8h3.7v3.7h-3.7zM166.95 1328.8h3.7v3.7h-3.7zM174.35 1328.8h3.7v3.7h-3.7zM181.75 1328.8h3.7v3.7h-3.7z" fill="#111"/><rect x="148.45" y="1333.3" width="35.5" height="47.3" fill="none" stroke="#000" stroke-width="3"/><path d="M166.2 1332.3V1307.6" stroke="#000" stroke-width="2.6"/><path d="M156.57 1307.6H175.82" stroke="#000" stroke-width="3" stroke-linecap="round"/><path clip-path="url(#c38)" d="M192.22 1377.3h7.45v7.45h-7.45zM207.12 1377.3h7.45v7.45h-7.45zM222.02 1377.3h7.45v7.45h-7.45zM236.92 1377.3h7.45v7.45h-7.45zM184.77 1369.85h7.45v7.45h-7.45zM199.67 1369.85h7.45v7.45h-7.45zM214.57 1369.85h7.45v7.45h-7.45zM229.47 1369.85h7.45v7.45h-7.45zM192.22 1362.4h7.45v7.45h-7.45zM207.12 1362.4h7.45v7.45h-7.45zM222.02 1362.4h7.45v7.45h-7.45zM236.92 1362.4h7.45v7.45h-7.45zM184.77 1354.95h7.45v7.45h-7.45zM199.67 1354.95h7.45v7.45h-7.45zM214.57 1354.95h7.45v7.45h-7.45zM229.47 1354.95h7.45v7.45h-7.45zM192.22 1347.5h7.45v7.45h-7.45zM207.12 1347.5h7.45v7.45h-7.45zM222.02 1347.5h7.45v7.45h-7.45zM236.92 1347.5h7.45v7.45h-7.45zM184.77 1340.05h7.45v7.45h-7.45zM199.67 1340.05h7.45v7.45h-7.45zM214.57 1340.05h7.45v7.45h-7.45zM229.47 1340.05h7.45v7.45h-7.45zM192.22 1332.6h7.45v7.45h-7.45zM207.12 1332.6h7.45v7.45h-7.45zM222.02 1332.6h7.45v7.45h-7.45zM236.92 1332.6h7.45v7.45h-7.45zM184.77 1325.15h7.45v7.45h-7.45zM199.67 1325.15h7.45v7.45h-7.45zM214.57 1325.15h7.45v7.45h-7.45zM229.47 1325.15h7.45v7.45h-7.45zM192.22 1317.7h7.45v7.45h-7.45zM207.12 1317.7h7.45v7.45h-7.45zM222.02 1317.7h7.45v7.45h-7.45zM236.92 1317.7h7.45v7.45h-7.45zM184.77 1310.25h7.45v7.45h-7.45zM199.67 1310.25h7.45v7.45h-7.45zM214.57 1310.25h7.45v7.45h-7.45zM229.47 1310.25h7.45v7.45h-7.45zM192.22 1302.8h7.45v7.45h-7.45zM207.12 1302.8h7.45v7.45h-7.45zM222.02 1302.8h7.45v7.45h-7.45zM236.92 1302.8h7.45v7.45h-7.45zM184.77 1295.35h7.45v7.45h-7.45zM199.67 1295.35h7.45v7.45h-7.45zM214.57 1295.35h7.45v7.45h-7.45zM229.47 1295.35h7.45v7.45h-7.45zM192.22 1287.9h7.45v7.45h-7.45zM207.12 1287.9h7.45v7.45h-7.45zM222.02 1287.9h7.45v7.45h-7.45zM236.92 1287.9h7.45v7.45h-7.45zM184.77 1280.45h7.45v7.45h-7.45zM199.67 1280.45h7.45v7.45h-7.45zM214.57 1280.45h7.45v7.45h-7.45zM229.47 1280.45h7.45v7.45h-7.45zM192.22 1273h7.45v7.45h-7.45zM207.12 1273h7.45v7.45h-7.45zM222.02 1273h7.45v7.45h-7.45zM236.92 1273h7.45v7.45h-7.45zM184.77 1265.55h7.45v7.45h-7.45zM199.67 1265.55h7.45v7.45h-7.45zM214.57 1265.55h7.45v7.45h-7.45zM229.47 1265.55h7.45v7.45h-7.45zM192.22 1258.1h7.45v7.45h-7.45zM207.12 1258.1h7.45v7.45h-7.45zM222.02 1258.1h7.45v7.45h-7.45zM236.92 1258.1h7.45v7.45h-7.45zM184.77 1250.65h7.45v7.45h-7.45zM199.67 1250.65h7.45v7.45h-7.45zM214.57 1250.65h7.45v7.45h-7.45zM229.47 1250.65h7.45v7.45h-7.45zM192.22 1243.2h7.45v7.45h-7.45zM207.12 1243.2h7.45v7.45h-7.45zM222.02 1243.2h7.45v7.45h-7.45zM236.92 1243.2h7.45v7.45h-7.45zM184.77 1235.75h7.45v7.45h-7.45zM199.67 1235.75h7.45v7.45h-7.45zM214.57 1235.75h7.45v7.45h-7.45zM229.47 1235.75h7.45v7.45h-7.45zM192.22 1228.3h7.45v7.45h-7.45zM207.12 1228.3h7.45v7.45h-7.45zM222.02 1228.3h7.45v7.45h-7.45zM236.92 1228.3h7.45v7.45h-7.45zM184.77 1220.85h7.45v7.45h-7.45zM199.67 1220.85h7.45v7.45h-7.45zM214.57 1220.85h7.45v7.45h-7.45zM229.47 1220.85h7.45v7.45h-7.45zM192.22 1213.4h7.45v7.45h-7.45zM207.12 1213.4h7.45v7.45h-7.45zM222.02 1213.4h7.45v7.45h-7.45zM236.92 1213.4h7.45v7.45h-7.45zM184.77 1205.95h7.45v7.45h-7.45zM199.67 1205.95h7.45v7.45h-7.45zM214.57 1205.95h7.45v7.45h-7.45zM229.47 1205.95h7.45v7.45h-7.45zM192.22 1198.5h7.45v7.45h-7.45zM207.12 1198.5h7.45v7.45h-7.45zM222.02 1198.5h7.45v7.45h-7.45zM236.92 1198.5h7.45v7.45h-7.45zM184.77 1191.05h7.45v7.45h-7.45zM199.67 1191.05h7.45v7.45h-7.45zM214.57 1191.05h7.45v7.45h-7.45zM229.47 1191.05h7.45v7.45h-7.45zM192.22 1183.6h7.45v7.45h-7.45zM207.12 1183.6h7.45v7.45h-7.45zM222.02 1183.6h7.45v7.45h-7.45zM236.92 1183.6h7.45v7.45h-7.45zM184.77 1176.15h7.45v7.45h-7.45zM199.67 1176.15h7.45v7.45h-7.45zM214.57 1176.15h7.45v7.45h-7.45zM229.47 1176.15h7.45v7.45h-7.45zM192.22 1168.7h7.45v7.45h-7.45zM207.12 1168.7h7.45v7.45h-7.45zM222.02 1168.7h7.45v7.45h-7.45zM236.92 1168.7h7.45v7.45h-7.45zM184.77 1161.25h7.45v7.45h-7.45zM199.67 1161.25h7.45v7.45h-7.45zM214.57 1161.25h7.45v7.45h-7.45zM229.47 1161.25h7.45v7.45h-7.45zM192.22 1153.8h7.45v7.45h-7.45zM207.12 1153.8h7.45v7.45h-7.45zM222.02 1153.8h7.45v7.45h-7.45zM236.92 1153.8h7.45v7.45h-7.45zM184.77 1146.35h7.45v7.45h-7.45zM199.67 1146.35h7.45v7.45h-7.45zM214.57 1146.35h7.45v7.45h-7.45zM229.47 1146.35h7.45v7.45h-7.45zM192.22 1138.9h7.45v7.45h-7.45zM207.12 1138.9h7.45v7.45h-7.45zM222.02 1138.9h7.45v7.45h-7.45zM236.92 1138.9h7.45v7.45h-7.45zM184.77 1131.45h7.45v7.45h-7.45zM199.67 1131.45h7.45v7.45h-7.45zM214.57 1131.45h7.45v7.45h-7.45zM229.47 1131.45h7.45v7.45h-7.45zM192.22 1124h7.45v7.45h-7.45zM207.12 1124h7.45v7.45h-7.45zM222.02 1124h7.45v7.45h-7.45zM236.92 1124h7.45v7.45h-7.45zM184.77 1116.55h7.45v7.45h-7.45zM199.67 1116.55h7.45v7.45h-7.45zM214.57 1116.55h7.45v7.45h-7.45zM229.47 1116.55h7.45v7.45h-7.45zM192.22 1109.1h7.45v7.45h-7.45zM207.12 1109.1h7.45v7.45h-7.45zM222.02 1109.1h7.45v7.45h-7.45zM236.92 1109.1h7.45v7.45h-7.45zM184.77 1101.65h7.45v7.45h-7.45zM199.67 1101.65h7.45v7.45h-7.45zM214.57 1101.65h7.45v7.45h-7.45zM229.47 1101.65h7.45v7.45h-7.45zM192.22 1094.2h7.45v7.45h-7.45zM207.12 1094.2h7.45v7.45h-7.45zM222.02 1094.2h7.45v7.45h-7.45zM236.92 1094.2h7.45v7.45h-7.45zM184.77 1086.75h7.45v7.45h-7.45zM199.67 1086.75h7.45v7.45h-7.45zM214.57 1086.75h7.45v7.45h-7.45zM229.47 1086.75h7.45v7.45h-7.45zM192.22 1079.3h7.45v7.45h-7.45zM207.12 1079.3h7.45v7.45h-7.45zM222.02 1079.3h7.45v7.45h-7.45zM236.92 1079.3h7.45v7.45h-7.45zM184.77 1071.85h7.45v7.45h-7.45zM199.67 1071.85h7.45v7.45h-7.45zM214.57 1071.85h7.45v7.45h-7.45zM229.47 1071.85h7.45v7.45h-7.45z" fill="#000"/><rect x="200.55" y="1090.1" width="35.5" height="290.5" fill="none" stroke="#000" stroke-width="3"/><path d="M218.3 1089.1V1038.2" stroke="#000" stroke-width="2.6"/><path d="M208.67 1038.2H227.92" stroke="#000" stroke-width="3" stroke-linecap="round"/><path clip-path="url(#c39)" d="M252.65 1374.9H288.15M252.65 1366.95H288.15M252.65 1359H288.15M252.65 1351.05H288.15M252.65 1343.1H288.15M252.65 1335.15H288.15M252.65 1327.2H288.15M252.65 1319.25H288.15M252.65 1311.3H288.15M252.65 1303.35H288.15M252.65 1295.4H288.15M252.65 1287.45H288.15M252.65 1279.5H288.15M252.65 1271.55H288.15M252.65 1263.6H288.15" stroke="#000" stroke-width="1.4" fill="none"/><rect x="252.65" y="1257.2" width="35.5" height="123.4" fill="none" stroke="#000" stroke-width="3"/><path d="M270.4 1256.2V1240.2" stroke="#000" stroke-width="2.6"/><path d="M260.77 1240.2H280.02" stroke="#000" stroke-width="3" stroke-linecap="round"/><path clip-path="url(#c40)" d="M314 1101.3V1380.6M323.25 1101.3V1380.6M332.5 1101.3V1380.6" stroke="#000" stroke-width="1.4" fill="none"/><rect x="304.75" y="1101.3" width="35.5" height="279.3" fill="none" stroke="#000" stroke-width="3"/><path d="M322.5 1100.3V1089" stroke="#000" stroke-width="2.6"/><path d="M312.88 1089H332.12" stroke="#000" stroke-width="3" stroke-linecap="round"/><path d="M153.8 1027H224.2" stroke="#000" stroke-width="3"/><text class="st" transform="translate(190.7 1026.36) scale(0.92 1.02)" >*</text><path d="M261.6 1080H331" stroke="#000" stroke-width="3"/><text class="st" transform="translate(297.74 1081.36) scale(0.92 1.02)" letter-spacing="1.6">**</text><path clip-path="url(#c41)" d="M376.05 1376.9h3.7v3.7h-3.7zM383.45 1376.9h3.7v3.7h-3.7zM390.85 1376.9h3.7v3.7h-3.7zM398.25 1376.9h3.7v3.7h-3.7zM405.65 1376.9h3.7v3.7h-3.7zM413.05 1376.9h3.7v3.7h-3.7zM379.75 1373.2h3.7v3.7h-3.7zM387.15 1373.2h3.7v3.7h-3.7zM394.55 1373.2h3.7v3.7h-3.7zM401.95 1373.2h3.7v3.7h-3.7zM409.35 1373.2h3.7v3.7h-3.7zM376.05 1369.5h3.7v3.7h-3.7zM383.45 1369.5h3.7v3.7h-3.7zM390.85 1369.5h3.7v3.7h-3.7zM398.25 1369.5h3.7v3.7h-3.7zM405.65 1369.5h3.7v3.7h-3.7zM413.05 1369.5h3.7v3.7h-3.7z" fill="#111"/><rect x="376.05" y="1374.5" width="35.5" height="6.1" fill="none" stroke="#000" stroke-width="3"/><path clip-path="url(#c42)" d="M419.82 1377.3h7.45v7.45h-7.45zM434.73 1377.3h7.45v7.45h-7.45zM449.62 1377.3h7.45v7.45h-7.45zM464.53 1377.3h7.45v7.45h-7.45zM412.38 1369.85h7.45v7.45h-7.45zM427.28 1369.85h7.45v7.45h-7.45zM442.18 1369.85h7.45v7.45h-7.45zM457.07 1369.85h7.45v7.45h-7.45zM419.82 1362.4h7.45v7.45h-7.45zM434.73 1362.4h7.45v7.45h-7.45zM449.62 1362.4h7.45v7.45h-7.45zM464.53 1362.4h7.45v7.45h-7.45zM412.38 1354.95h7.45v7.45h-7.45zM427.28 1354.95h7.45v7.45h-7.45zM442.18 1354.95h7.45v7.45h-7.45zM457.07 1354.95h7.45v7.45h-7.45zM419.82 1347.5h7.45v7.45h-7.45zM434.73 1347.5h7.45v7.45h-7.45zM449.62 1347.5h7.45v7.45h-7.45zM464.53 1347.5h7.45v7.45h-7.45zM412.38 1340.05h7.45v7.45h-7.45zM427.28 1340.05h7.45v7.45h-7.45zM442.18 1340.05h7.45v7.45h-7.45zM457.07 1340.05h7.45v7.45h-7.45zM419.82 1332.6h7.45v7.45h-7.45zM434.73 1332.6h7.45v7.45h-7.45zM449.62 1332.6h7.45v7.45h-7.45zM464.53 1332.6h7.45v7.45h-7.45zM412.38 1325.15h7.45v7.45h-7.45zM427.28 1325.15h7.45v7.45h-7.45zM442.18 1325.15h7.45v7.45h-7.45zM457.07 1325.15h7.45v7.45h-7.45zM419.82 1317.7h7.45v7.45h-7.45zM434.73 1317.7h7.45v7.45h-7.45zM449.62 1317.7h7.45v7.45h-7.45zM464.53 1317.7h7.45v7.45h-7.45zM412.38 1310.25h7.45v7.45h-7.45zM427.28 1310.25h7.45v7.45h-7.45zM442.18 1310.25h7.45v7.45h-7.45zM457.07 1310.25h7.45v7.45h-7.45zM419.82 1302.8h7.45v7.45h-7.45zM434.73 1302.8h7.45v7.45h-7.45zM449.62 1302.8h7.45v7.45h-7.45zM464.53 1302.8h7.45v7.45h-7.45zM412.38 1295.35h7.45v7.45h-7.45zM427.28 1295.35h7.45v7.45h-7.45zM442.18 1295.35h7.45v7.45h-7.45zM457.07 1295.35h7.45v7.45h-7.45zM419.82 1287.9h7.45v7.45h-7.45zM434.73 1287.9h7.45v7.45h-7.45zM449.62 1287.9h7.45v7.45h-7.45zM464.53 1287.9h7.45v7.45h-7.45z" fill="#000"/><rect x="428.15" y="1309.5" width="35.5" height="71.1" fill="none" stroke="#000" stroke-width="3"/><path d="M445.9 1308.5V1297.6" stroke="#000" stroke-width="2.6"/><path d="M436.28 1297.6H455.53" stroke="#000" stroke-width="3" stroke-linecap="round"/><rect x="480.25" y="1377.9" width="35.5" height="2.7" fill="none" stroke="#000" stroke-width="3"/><path clip-path="url(#c43)" d="M541.6 1345.7V1380.6M550.85 1345.7V1380.6M560.1 1345.7V1380.6" stroke="#000" stroke-width="1.4" fill="none"/><rect x="532.35" y="1345.7" width="35.5" height="34.9" fill="none" stroke="#000" stroke-width="3"/><path d="M550.1 1344.7V1343.5" stroke="#000" stroke-width="2.6"/><path d="M540.48 1343.5H559.73" stroke="#000" stroke-width="3" stroke-linecap="round"/><path d="M381.5 1287H450.6" stroke="#000" stroke-width="3"/><text class="st" transform="translate(416.34 1289.76) scale(0.92 1.02)" letter-spacing="1.6">**</text><path d="M488.6 1335.5H557.7" stroke="#000" stroke-width="3"/><text class="st" transform="translate(521.54 1337.06) scale(0.92 1.02)" letter-spacing="1.6">**</text><path clip-path="url(#c44)" d="M603.65 1376.9h3.7v3.7h-3.7zM611.05 1376.9h3.7v3.7h-3.7zM618.45 1376.9h3.7v3.7h-3.7zM625.85 1376.9h3.7v3.7h-3.7zM633.25 1376.9h3.7v3.7h-3.7zM640.65 1376.9h3.7v3.7h-3.7zM607.35 1373.2h3.7v3.7h-3.7zM614.75 1373.2h3.7v3.7h-3.7zM622.15 1373.2h3.7v3.7h-3.7zM629.55 1373.2h3.7v3.7h-3.7zM636.95 1373.2h3.7v3.7h-3.7zM603.65 1369.5h3.7v3.7h-3.7zM611.05 1369.5h3.7v3.7h-3.7zM618.45 1369.5h3.7v3.7h-3.7zM625.85 1369.5h3.7v3.7h-3.7zM633.25 1369.5h3.7v3.7h-3.7zM640.65 1369.5h3.7v3.7h-3.7zM607.35 1365.8h3.7v3.7h-3.7zM614.75 1365.8h3.7v3.7h-3.7zM622.15 1365.8h3.7v3.7h-3.7zM629.55 1365.8h3.7v3.7h-3.7zM636.95 1365.8h3.7v3.7h-3.7z" fill="#111"/><rect x="603.65" y="1370.5" width="35.5" height="10.1" fill="none" stroke="#000" stroke-width="3"/><path d="M621.4 1369.5V1367.2" stroke="#000" stroke-width="2.6"/><path d="M611.78 1367.2H631.03" stroke="#000" stroke-width="3" stroke-linecap="round"/><path clip-path="url(#c45)" d="M647.43 1377.3h7.45v7.45h-7.45zM662.33 1377.3h7.45v7.45h-7.45zM677.23 1377.3h7.45v7.45h-7.45zM692.13 1377.3h7.45v7.45h-7.45zM639.98 1369.85h7.45v7.45h-7.45zM654.88 1369.85h7.45v7.45h-7.45zM669.78 1369.85h7.45v7.45h-7.45zM684.68 1369.85h7.45v7.45h-7.45zM647.43 1362.4h7.45v7.45h-7.45zM662.33 1362.4h7.45v7.45h-7.45zM677.23 1362.4h7.45v7.45h-7.45zM692.13 1362.4h7.45v7.45h-7.45zM639.98 1354.95h7.45v7.45h-7.45zM654.88 1354.95h7.45v7.45h-7.45zM669.78 1354.95h7.45v7.45h-7.45zM684.68 1354.95h7.45v7.45h-7.45zM647.43 1347.5h7.45v7.45h-7.45zM662.33 1347.5h7.45v7.45h-7.45zM677.23 1347.5h7.45v7.45h-7.45zM692.13 1347.5h7.45v7.45h-7.45zM639.98 1340.05h7.45v7.45h-7.45zM654.88 1340.05h7.45v7.45h-7.45zM669.78 1340.05h7.45v7.45h-7.45zM684.68 1340.05h7.45v7.45h-7.45zM647.43 1332.6h7.45v7.45h-7.45zM662.33 1332.6h7.45v7.45h-7.45zM677.23 1332.6h7.45v7.45h-7.45zM692.13 1332.6h7.45v7.45h-7.45zM639.98 1325.15h7.45v7.45h-7.45zM654.88 1325.15h7.45v7.45h-7.45zM669.78 1325.15h7.45v7.45h-7.45zM684.68 1325.15h7.45v7.45h-7.45zM647.43 1317.7h7.45v7.45h-7.45zM662.33 1317.7h7.45v7.45h-7.45zM677.23 1317.7h7.45v7.45h-7.45zM692.13 1317.7h7.45v7.45h-7.45z" fill="#000"/><rect x="655.75" y="1342.5" width="35.5" height="38.1" fill="none" stroke="#000" stroke-width="3"/><path d="M673.5 1341.5V1336.7" stroke="#000" stroke-width="2.6"/><path d="M663.88 1336.7H683.13" stroke="#000" stroke-width="3" stroke-linecap="round"/><path clip-path="url(#c46)" d="M707.85 1374.9H743.35" stroke="#000" stroke-width="1.4" fill="none"/><rect x="707.85" y="1372" width="35.5" height="8.6" fill="none" stroke="#000" stroke-width="3"/><path clip-path="url(#c47)" d="M769.2 1354V1380.6M778.45 1354V1380.6M787.7 1354V1380.6" stroke="#000" stroke-width="1.4" fill="none"/><rect x="759.95" y="1354" width="35.5" height="26.6" fill="none" stroke="#000" stroke-width="3"/><path d="M777.7 1353V1351.5" stroke="#000" stroke-width="2.6"/><path d="M768.08 1351.5H787.33" stroke="#000" stroke-width="3" stroke-linecap="round"/><path d="M610.3 1327.4H680.3" stroke="#000" stroke-width="3"/><text class="st" transform="translate(644.3 1329.66) scale(0.92 1.02)" >*</text><path d="M715.3 1340.5H784.5" stroke="#000" stroke-width="3"/><text class="st" transform="translate(749.9 1345.36) scale(0.92 1.02)" >*</text><path d="M130.8 1005.9V1381" stroke="#000" stroke-width="2.8" fill="none"/><path d="M119.9 1381H818.6" stroke="#000" stroke-width="2.8" fill="none"/><path d="M119.9 1006H130.8" stroke="#000" stroke-width="2.8"/><text x="116.7" y="1014.4" class="yl">0.005</text><path d="M119.9 1081H130.8" stroke="#000" stroke-width="2.8"/><text x="116.7" y="1089.4" class="yl">0.004</text><path d="M119.9 1156.3H130.8" stroke="#000" stroke-width="2.8"/><text x="116.7" y="1164.7" class="yl">0.003</text><path d="M119.9 1231.5H130.8" stroke="#000" stroke-width="2.8"/><text x="116.7" y="1239.9" class="yl">0.002</text><path d="M119.9 1306.4H130.8" stroke="#000" stroke-width="2.8"/><text x="116.7" y="1314.8" class="yl">0.001</text><path d="M119.9 1381H130.8" stroke="#000" stroke-width="2.8"/><text x="116.7" y="1389.4" class="yl">0.000</text><path d="M244.75 1381V1392.5" stroke="#000" stroke-width="2.8"/><path d="M472.35 1381V1392.5" stroke="#000" stroke-width="2.8"/><path d="M699.95 1381V1392.5" stroke="#000" stroke-width="2.8"/><text class="xl" transform="translate(255.05 1422.1) scale(0.974 1.034) rotate(-45)">Janthinobacterium</text><text class="xl" transform="translate(482.65 1422.1) scale(0.974 1.034) rotate(-45)">Collimonas</text><text class="xl" transform="translate(710.25 1422.1) scale(0.974 1.034) rotate(-45)">Agrobacterium</text><text class="yt" style="font-size:27.3px" transform="translate(33 1191.9) rotate(-90)" textLength="276.7" lengthAdjust="spacingAndGlyphs">Relative Abundance</text><text class="pl" style="font-size:59.5px" x="23" y="925.2">(c)</text><path clip-path="url(#c48)" d="M817.5 1015.9h3.2v3.2h-3.2zM823.9 1015.9h3.2v3.2h-3.2zM830.3 1015.9h3.2v3.2h-3.2zM836.7 1015.9h3.2v3.2h-3.2zM843.1 1015.9h3.2v3.2h-3.2zM849.5 1015.9h3.2v3.2h-3.2zM855.9 1015.9h3.2v3.2h-3.2zM820.7 1012.7h3.2v3.2h-3.2zM827.1 1012.7h3.2v3.2h-3.2zM833.5 1012.7h3.2v3.2h-3.2zM839.9 1012.7h3.2v3.2h-3.2zM846.3 1012.7h3.2v3.2h-3.2zM852.7 1012.7h3.2v3.2h-3.2zM859.1 1012.7h3.2v3.2h-3.2zM817.5 1009.5h3.2v3.2h-3.2zM823.9 1009.5h3.2v3.2h-3.2zM830.3 1009.5h3.2v3.2h-3.2zM836.7 1009.5h3.2v3.2h-3.2zM843.1 1009.5h3.2v3.2h-3.2zM849.5 1009.5h3.2v3.2h-3.2zM855.9 1009.5h3.2v3.2h-3.2zM820.7 1006.3h3.2v3.2h-3.2zM827.1 1006.3h3.2v3.2h-3.2zM833.5 1006.3h3.2v3.2h-3.2zM839.9 1006.3h3.2v3.2h-3.2zM846.3 1006.3h3.2v3.2h-3.2zM852.7 1006.3h3.2v3.2h-3.2zM859.1 1006.3h3.2v3.2h-3.2zM817.5 1003.1h3.2v3.2h-3.2zM823.9 1003.1h3.2v3.2h-3.2zM830.3 1003.1h3.2v3.2h-3.2zM836.7 1003.1h3.2v3.2h-3.2zM843.1 1003.1h3.2v3.2h-3.2zM849.5 1003.1h3.2v3.2h-3.2zM855.9 1003.1h3.2v3.2h-3.2zM820.7 999.9h3.2v3.2h-3.2zM827.1 999.9h3.2v3.2h-3.2zM833.5 999.9h3.2v3.2h-3.2zM839.9 999.9h3.2v3.2h-3.2zM846.3 999.9h3.2v3.2h-3.2zM852.7 999.9h3.2v3.2h-3.2zM859.1 999.9h3.2v3.2h-3.2zM817.5 996.7h3.2v3.2h-3.2zM823.9 996.7h3.2v3.2h-3.2zM830.3 996.7h3.2v3.2h-3.2zM836.7 996.7h3.2v3.2h-3.2zM843.1 996.7h3.2v3.2h-3.2zM849.5 996.7h3.2v3.2h-3.2zM855.9 996.7h3.2v3.2h-3.2zM820.7 993.5h3.2v3.2h-3.2zM827.1 993.5h3.2v3.2h-3.2zM833.5 993.5h3.2v3.2h-3.2zM839.9 993.5h3.2v3.2h-3.2zM846.3 993.5h3.2v3.2h-3.2zM852.7 993.5h3.2v3.2h-3.2zM859.1 993.5h3.2v3.2h-3.2z" fill="#111"/><rect x="817.5" y="998.1" width="38.5" height="21" fill="none" stroke="#000" stroke-width="3" rx="0.8"/><text class="lg" style="font-size:33.2px" transform="translate(876.9 1019) scale(0.874 1)">cCK</text><path clip-path="url(#c49)" d="M813.65 1061.7h6.6v6.6h-6.6zM826.85 1061.7h6.6v6.6h-6.6zM840.05 1061.7h6.6v6.6h-6.6zM853.25 1061.7h6.6v6.6h-6.6zM807.05 1055.1h6.6v6.6h-6.6zM820.25 1055.1h6.6v6.6h-6.6zM833.45 1055.1h6.6v6.6h-6.6zM846.65 1055.1h6.6v6.6h-6.6zM859.85 1055.1h6.6v6.6h-6.6zM813.65 1048.5h6.6v6.6h-6.6zM826.85 1048.5h6.6v6.6h-6.6zM840.05 1048.5h6.6v6.6h-6.6zM853.25 1048.5h6.6v6.6h-6.6zM807.05 1041.9h6.6v6.6h-6.6zM820.25 1041.9h6.6v6.6h-6.6zM833.45 1041.9h6.6v6.6h-6.6zM846.65 1041.9h6.6v6.6h-6.6zM859.85 1041.9h6.6v6.6h-6.6zM813.65 1035.3h6.6v6.6h-6.6zM826.85 1035.3h6.6v6.6h-6.6zM840.05 1035.3h6.6v6.6h-6.6zM853.25 1035.3h6.6v6.6h-6.6zM807.05 1028.7h6.6v6.6h-6.6zM820.25 1028.7h6.6v6.6h-6.6zM833.45 1028.7h6.6v6.6h-6.6zM846.65 1028.7h6.6v6.6h-6.6zM859.85 1028.7h6.6v6.6h-6.6zM813.65 1022.1h6.6v6.6h-6.6zM826.85 1022.1h6.6v6.6h-6.6zM840.05 1022.1h6.6v6.6h-6.6zM853.25 1022.1h6.6v6.6h-6.6z" fill="#000"/><rect x="817.5" y="1040.7" width="38.5" height="21" fill="none" stroke="#000" stroke-width="3" rx="0.8"/><text class="lg" style="font-size:33.2px" transform="translate(876.9 1060.6) scale(0.874 1)">cT</text><path d="M817.5 1094.3H856M817.5 1102.1H856" stroke="#000" stroke-width="1.5"/><rect x="817.5" y="1085.8" width="38.5" height="21" fill="none" stroke="#000" stroke-width="3" rx="0.8"/><text class="lg" style="font-size:33.2px" transform="translate(876.9 1106.8) scale(0.874 1)">cF</text><path d="M826.1 1129.6V1150.6M837.9 1129.6V1150.6M847.4 1129.6V1150.6" stroke="#000" stroke-width="1.5"/><rect x="817.5" y="1129.6" width="38.5" height="21" fill="none" stroke="#000" stroke-width="3" rx="0.8"/><text class="lg" style="font-size:33.2px" transform="translate(876.9 1150.6) scale(0.874 1)">cTF</text></g>
<g><path clip-path="url(#c50)" d="M1191.3 1366h3.6v3.6h-3.6zM1198.5 1366h3.6v3.6h-3.6zM1205.7 1366h3.6v3.6h-3.6zM1212.9 1366h3.6v3.6h-3.6zM1194.9 1362.4h3.6v3.6h-3.6zM1202.1 1362.4h3.6v3.6h-3.6zM1209.3 1362.4h3.6v3.6h-3.6zM1191.3 1358.8h3.6v3.6h-3.6zM1198.5 1358.8h3.6v3.6h-3.6zM1205.7 1358.8h3.6v3.6h-3.6zM1212.9 1358.8h3.6v3.6h-3.6zM1194.9 1355.2h3.6v3.6h-3.6zM1202.1 1355.2h3.6v3.6h-3.6zM1209.3 1355.2h3.6v3.6h-3.6zM1191.3 1351.6h3.6v3.6h-3.6zM1198.5 1351.6h3.6v3.6h-3.6zM1205.7 1351.6h3.6v3.6h-3.6zM1212.9 1351.6h3.6v3.6h-3.6zM1194.9 1348h3.6v3.6h-3.6zM1202.1 1348h3.6v3.6h-3.6zM1209.3 1348h3.6v3.6h-3.6zM1191.3 1344.4h3.6v3.6h-3.6zM1198.5 1344.4h3.6v3.6h-3.6zM1205.7 1344.4h3.6v3.6h-3.6zM1212.9 1344.4h3.6v3.6h-3.6zM1194.9 1340.8h3.6v3.6h-3.6zM1202.1 1340.8h3.6v3.6h-3.6zM1209.3 1340.8h3.6v3.6h-3.6zM1191.3 1337.2h3.6v3.6h-3.6zM1198.5 1337.2h3.6v3.6h-3.6zM1205.7 1337.2h3.6v3.6h-3.6zM1212.9 1337.2h3.6v3.6h-3.6zM1194.9 1333.6h3.6v3.6h-3.6zM1202.1 1333.6h3.6v3.6h-3.6zM1209.3 1333.6h3.6v3.6h-3.6zM1191.3 1330h3.6v3.6h-3.6zM1198.5 1330h3.6v3.6h-3.6zM1205.7 1330h3.6v3.6h-3.6zM1212.9 1330h3.6v3.6h-3.6zM1194.9 1326.4h3.6v3.6h-3.6zM1202.1 1326.4h3.6v3.6h-3.6zM1209.3 1326.4h3.6v3.6h-3.6zM1191.3 1322.8h3.6v3.6h-3.6zM1198.5 1322.8h3.6v3.6h-3.6zM1205.7 1322.8h3.6v3.6h-3.6zM1212.9 1322.8h3.6v3.6h-3.6zM1194.9 1319.2h3.6v3.6h-3.6zM1202.1 1319.2h3.6v3.6h-3.6zM1209.3 1319.2h3.6v3.6h-3.6zM1191.3 1315.6h3.6v3.6h-3.6zM1198.5 1315.6h3.6v3.6h-3.6zM1205.7 1315.6h3.6v3.6h-3.6zM1212.9 1315.6h3.6v3.6h-3.6zM1194.9 1312h3.6v3.6h-3.6zM1202.1 1312h3.6v3.6h-3.6zM1209.3 1312h3.6v3.6h-3.6zM1191.3 1308.4h3.6v3.6h-3.6zM1198.5 1308.4h3.6v3.6h-3.6zM1205.7 1308.4h3.6v3.6h-3.6zM1212.9 1308.4h3.6v3.6h-3.6zM1194.9 1304.8h3.6v3.6h-3.6zM1202.1 1304.8h3.6v3.6h-3.6zM1209.3 1304.8h3.6v3.6h-3.6zM1191.3 1301.2h3.6v3.6h-3.6zM1198.5 1301.2h3.6v3.6h-3.6zM1205.7 1301.2h3.6v3.6h-3.6zM1212.9 1301.2h3.6v3.6h-3.6z" fill="#111"/><rect x="1191.3" y="1306.5" width="21.3" height="63.1" fill="none" stroke="#000" stroke-width="3"/><path d="M1201.95 1305.5V1294.5" stroke="#000" stroke-width="2.6"/><path d="M1195.87 1294.5H1208.02" stroke="#000" stroke-width="3" stroke-linecap="round"/><path clip-path="url(#c51)" d="M1208.7 1369.6h7.1v7.1h-7.1zM1222.9 1369.6h7.1v7.1h-7.1zM1237.1 1369.6h7.1v7.1h-7.1zM1215.8 1362.5h7.1v7.1h-7.1zM1230 1362.5h7.1v7.1h-7.1zM1244.2 1362.5h7.1v7.1h-7.1zM1208.7 1355.4h7.1v7.1h-7.1zM1222.9 1355.4h7.1v7.1h-7.1zM1237.1 1355.4h7.1v7.1h-7.1zM1215.8 1348.3h7.1v7.1h-7.1zM1230 1348.3h7.1v7.1h-7.1zM1244.2 1348.3h7.1v7.1h-7.1zM1208.7 1341.2h7.1v7.1h-7.1zM1222.9 1341.2h7.1v7.1h-7.1zM1237.1 1341.2h7.1v7.1h-7.1zM1215.8 1334.1h7.1v7.1h-7.1zM1230 1334.1h7.1v7.1h-7.1zM1244.2 1334.1h7.1v7.1h-7.1zM1208.7 1327h7.1v7.1h-7.1zM1222.9 1327h7.1v7.1h-7.1zM1237.1 1327h7.1v7.1h-7.1zM1215.8 1319.9h7.1v7.1h-7.1zM1230 1319.9h7.1v7.1h-7.1zM1244.2 1319.9h7.1v7.1h-7.1zM1208.7 1312.8h7.1v7.1h-7.1zM1222.9 1312.8h7.1v7.1h-7.1zM1237.1 1312.8h7.1v7.1h-7.1zM1215.8 1305.7h7.1v7.1h-7.1zM1230 1305.7h7.1v7.1h-7.1zM1244.2 1305.7h7.1v7.1h-7.1zM1208.7 1298.6h7.1v7.1h-7.1zM1222.9 1298.6h7.1v7.1h-7.1zM1237.1 1298.6h7.1v7.1h-7.1zM1215.8 1291.5h7.1v7.1h-7.1zM1230 1291.5h7.1v7.1h-7.1zM1244.2 1291.5h7.1v7.1h-7.1zM1208.7 1284.4h7.1v7.1h-7.1zM1222.9 1284.4h7.1v7.1h-7.1zM1237.1 1284.4h7.1v7.1h-7.1zM1215.8 1277.3h7.1v7.1h-7.1zM1230 1277.3h7.1v7.1h-7.1zM1244.2 1277.3h7.1v7.1h-7.1zM1208.7 1270.2h7.1v7.1h-7.1zM1222.9 1270.2h7.1v7.1h-7.1zM1237.1 1270.2h7.1v7.1h-7.1zM1215.8 1263.1h7.1v7.1h-7.1zM1230 1263.1h7.1v7.1h-7.1zM1244.2 1263.1h7.1v7.1h-7.1zM1208.7 1256h7.1v7.1h-7.1zM1222.9 1256h7.1v7.1h-7.1zM1237.1 1256h7.1v7.1h-7.1zM1215.8 1248.9h7.1v7.1h-7.1zM1230 1248.9h7.1v7.1h-7.1zM1244.2 1248.9h7.1v7.1h-7.1zM1208.7 1241.8h7.1v7.1h-7.1zM1222.9 1241.8h7.1v7.1h-7.1zM1237.1 1241.8h7.1v7.1h-7.1zM1215.8 1234.7h7.1v7.1h-7.1zM1230 1234.7h7.1v7.1h-7.1zM1244.2 1234.7h7.1v7.1h-7.1zM1208.7 1227.6h7.1v7.1h-7.1zM1222.9 1227.6h7.1v7.1h-7.1zM1237.1 1227.6h7.1v7.1h-7.1zM1215.8 1220.5h7.1v7.1h-7.1zM1230 1220.5h7.1v7.1h-7.1zM1244.2 1220.5h7.1v7.1h-7.1zM1208.7 1213.4h7.1v7.1h-7.1zM1222.9 1213.4h7.1v7.1h-7.1zM1237.1 1213.4h7.1v7.1h-7.1zM1215.8 1206.3h7.1v7.1h-7.1zM1230 1206.3h7.1v7.1h-7.1zM1244.2 1206.3h7.1v7.1h-7.1zM1208.7 1199.2h7.1v7.1h-7.1zM1222.9 1199.2h7.1v7.1h-7.1zM1237.1 1199.2h7.1v7.1h-7.1zM1215.8 1192.1h7.1v7.1h-7.1zM1230 1192.1h7.1v7.1h-7.1zM1244.2 1192.1h7.1v7.1h-7.1zM1208.7 1185h7.1v7.1h-7.1zM1222.9 1185h7.1v7.1h-7.1zM1237.1 1185h7.1v7.1h-7.1zM1215.8 1177.9h7.1v7.1h-7.1zM1230 1177.9h7.1v7.1h-7.1zM1244.2 1177.9h7.1v7.1h-7.1zM1208.7 1170.8h7.1v7.1h-7.1zM1222.9 1170.8h7.1v7.1h-7.1zM1237.1 1170.8h7.1v7.1h-7.1zM1215.8 1163.7h7.1v7.1h-7.1zM1230 1163.7h7.1v7.1h-7.1zM1244.2 1163.7h7.1v7.1h-7.1zM1208.7 1156.6h7.1v7.1h-7.1zM1222.9 1156.6h7.1v7.1h-7.1zM1237.1 1156.6h7.1v7.1h-7.1zM1215.8 1149.5h7.1v7.1h-7.1zM1230 1149.5h7.1v7.1h-7.1zM1244.2 1149.5h7.1v7.1h-7.1zM1208.7 1142.4h7.1v7.1h-7.1zM1222.9 1142.4h7.1v7.1h-7.1zM1237.1 1142.4h7.1v7.1h-7.1zM1215.8 1135.3h7.1v7.1h-7.1zM1230 1135.3h7.1v7.1h-7.1zM1244.2 1135.3h7.1v7.1h-7.1zM1208.7 1128.2h7.1v7.1h-7.1zM1222.9 1128.2h7.1v7.1h-7.1zM1237.1 1128.2h7.1v7.1h-7.1zM1215.8 1121.1h7.1v7.1h-7.1zM1230 1121.1h7.1v7.1h-7.1zM1244.2 1121.1h7.1v7.1h-7.1zM1208.7 1114h7.1v7.1h-7.1zM1222.9 1114h7.1v7.1h-7.1zM1237.1 1114h7.1v7.1h-7.1zM1215.8 1106.9h7.1v7.1h-7.1zM1230 1106.9h7.1v7.1h-7.1zM1244.2 1106.9h7.1v7.1h-7.1zM1208.7 1099.8h7.1v7.1h-7.1zM1222.9 1099.8h7.1v7.1h-7.1zM1237.1 1099.8h7.1v7.1h-7.1z" fill="#000"/><rect x="1222.9" y="1118.3" width="21.3" height="251.3" fill="none" stroke="#000" stroke-width="3"/><path d="M1233.55 1117.3V1074.4" stroke="#000" stroke-width="2.6"/><path d="M1227.47 1074.4H1239.62" stroke="#000" stroke-width="3" stroke-linecap="round"/><path clip-path="url(#c52)" d="M1254.5 1361.6H1275.8M1254.5 1354.2H1275.8M1254.5 1346.8H1275.8M1254.5 1339.4H1275.8M1254.5 1332H1275.8M1254.5 1324.6H1275.8M1254.5 1317.2H1275.8M1254.5 1309.8H1275.8M1254.5 1302.4H1275.8M1254.5 1295H1275.8M1254.5 1287.6H1275.8" stroke="#000" stroke-width="1.4" fill="none"/><rect x="1254.5" y="1281.3" width="21.3" height="88.3" fill="none" stroke="#000" stroke-width="3"/><path d="M1265.15 1280.3V1273.2" stroke="#000" stroke-width="2.6"/><path d="M1259.08 1273.2H1271.23" stroke="#000" stroke-width="3" stroke-linecap="round"/><path clip-path="url(#c53)" d="M1296.8 1174V1369.6" stroke="#000" stroke-width="1.4" fill="none"/><rect x="1286.1" y="1174" width="21.3" height="195.6" fill="none" stroke="#000" stroke-width="3"/><path d="M1296.75 1173V1164.7" stroke="#000" stroke-width="2.6"/><path d="M1290.67 1164.7H1302.83" stroke="#000" stroke-width="3" stroke-linecap="round"/><path d="M1194.3 1066.3H1242.5" stroke="#000" stroke-width="3"/><text class="st" transform="translate(1218.2 1068) scale(1 0.91)" >*</text><path d="M1256 1157H1304.7" stroke="#000" stroke-width="3"/><text class="st" transform="translate(1282.5 1160) scale(1 0.91)" letter-spacing="1.6">**</text><path clip-path="url(#c54)" d="M1327.5 1366h3.6v3.6h-3.6zM1334.7 1366h3.6v3.6h-3.6zM1341.9 1366h3.6v3.6h-3.6zM1349.1 1366h3.6v3.6h-3.6zM1331.1 1362.4h3.6v3.6h-3.6zM1338.3 1362.4h3.6v3.6h-3.6zM1345.5 1362.4h3.6v3.6h-3.6zM1327.5 1358.8h3.6v3.6h-3.6zM1334.7 1358.8h3.6v3.6h-3.6zM1341.9 1358.8h3.6v3.6h-3.6zM1349.1 1358.8h3.6v3.6h-3.6zM1331.1 1355.2h3.6v3.6h-3.6zM1338.3 1355.2h3.6v3.6h-3.6zM1345.5 1355.2h3.6v3.6h-3.6zM1327.5 1351.6h3.6v3.6h-3.6zM1334.7 1351.6h3.6v3.6h-3.6zM1341.9 1351.6h3.6v3.6h-3.6zM1349.1 1351.6h3.6v3.6h-3.6zM1331.1 1348h3.6v3.6h-3.6zM1338.3 1348h3.6v3.6h-3.6zM1345.5 1348h3.6v3.6h-3.6zM1327.5 1344.4h3.6v3.6h-3.6zM1334.7 1344.4h3.6v3.6h-3.6zM1341.9 1344.4h3.6v3.6h-3.6zM1349.1 1344.4h3.6v3.6h-3.6zM1331.1 1340.8h3.6v3.6h-3.6zM1338.3 1340.8h3.6v3.6h-3.6zM1345.5 1340.8h3.6v3.6h-3.6zM1327.5 1337.2h3.6v3.6h-3.6zM1334.7 1337.2h3.6v3.6h-3.6zM1341.9 1337.2h3.6v3.6h-3.6zM1349.1 1337.2h3.6v3.6h-3.6zM1331.1 1333.6h3.6v3.6h-3.6zM1338.3 1333.6h3.6v3.6h-3.6zM1345.5 1333.6h3.6v3.6h-3.6zM1327.5 1330h3.6v3.6h-3.6zM1334.7 1330h3.6v3.6h-3.6zM1341.9 1330h3.6v3.6h-3.6zM1349.1 1330h3.6v3.6h-3.6zM1331.1 1326.4h3.6v3.6h-3.6zM1338.3 1326.4h3.6v3.6h-3.6zM1345.5 1326.4h3.6v3.6h-3.6z" fill="#111"/><rect x="1327.5" y="1333.5" width="21.3" height="36.1" fill="none" stroke="#000" stroke-width="3"/><path d="M1338.15 1332.5V1323.7" stroke="#000" stroke-width="2.6"/><path d="M1332.08 1323.7H1344.23" stroke="#000" stroke-width="3" stroke-linecap="round"/><path clip-path="url(#c55)" d="M1344.9 1369.6h7.1v7.1h-7.1zM1359.1 1369.6h7.1v7.1h-7.1zM1373.3 1369.6h7.1v7.1h-7.1zM1352 1362.5h7.1v7.1h-7.1zM1366.2 1362.5h7.1v7.1h-7.1zM1380.4 1362.5h7.1v7.1h-7.1zM1344.9 1355.4h7.1v7.1h-7.1zM1359.1 1355.4h7.1v7.1h-7.1zM1373.3 1355.4h7.1v7.1h-7.1zM1352 1348.3h7.1v7.1h-7.1zM1366.2 1348.3h7.1v7.1h-7.1zM1380.4 1348.3h7.1v7.1h-7.1zM1344.9 1341.2h7.1v7.1h-7.1zM1359.1 1341.2h7.1v7.1h-7.1zM1373.3 1341.2h7.1v7.1h-7.1zM1352 1334.1h7.1v7.1h-7.1zM1366.2 1334.1h7.1v7.1h-7.1zM1380.4 1334.1h7.1v7.1h-7.1zM1344.9 1327h7.1v7.1h-7.1zM1359.1 1327h7.1v7.1h-7.1zM1373.3 1327h7.1v7.1h-7.1zM1352 1319.9h7.1v7.1h-7.1zM1366.2 1319.9h7.1v7.1h-7.1zM1380.4 1319.9h7.1v7.1h-7.1zM1344.9 1312.8h7.1v7.1h-7.1zM1359.1 1312.8h7.1v7.1h-7.1zM1373.3 1312.8h7.1v7.1h-7.1zM1352 1305.7h7.1v7.1h-7.1zM1366.2 1305.7h7.1v7.1h-7.1zM1380.4 1305.7h7.1v7.1h-7.1zM1344.9 1298.6h7.1v7.1h-7.1zM1359.1 1298.6h7.1v7.1h-7.1zM1373.3 1298.6h7.1v7.1h-7.1zM1352 1291.5h7.1v7.1h-7.1zM1366.2 1291.5h7.1v7.1h-7.1zM1380.4 1291.5h7.1v7.1h-7.1zM1344.9 1284.4h7.1v7.1h-7.1zM1359.1 1284.4h7.1v7.1h-7.1zM1373.3 1284.4h7.1v7.1h-7.1zM1352 1277.3h7.1v7.1h-7.1zM1366.2 1277.3h7.1v7.1h-7.1zM1380.4 1277.3h7.1v7.1h-7.1zM1344.9 1270.2h7.1v7.1h-7.1zM1359.1 1270.2h7.1v7.1h-7.1zM1373.3 1270.2h7.1v7.1h-7.1zM1352 1263.1h7.1v7.1h-7.1zM1366.2 1263.1h7.1v7.1h-7.1zM1380.4 1263.1h7.1v7.1h-7.1zM1344.9 1256h7.1v7.1h-7.1zM1359.1 1256h7.1v7.1h-7.1zM1373.3 1256h7.1v7.1h-7.1zM1352 1248.9h7.1v7.1h-7.1zM1366.2 1248.9h7.1v7.1h-7.1zM1380.4 1248.9h7.1v7.1h-7.1zM1344.9 1241.8h7.1v7.1h-7.1zM1359.1 1241.8h7.1v7.1h-7.1zM1373.3 1241.8h7.1v7.1h-7.1z" fill="#000"/><rect x="1359.1" y="1257.5" width="21.3" height="112.1" fill="none" stroke="#000" stroke-width="3"/><path d="M1369.75 1256.5V1244.4" stroke="#000" stroke-width="2.6"/><path d="M1363.67 1244.4H1375.83" stroke="#000" stroke-width="3" stroke-linecap="round"/><path clip-path="url(#c56)" d="M1390.7 1361.6H1412M1390.7 1354.2H1412M1390.7 1346.8H1412M1390.7 1339.4H1412M1390.7 1332H1412M1390.7 1324.6H1412M1390.7 1317.2H1412M1390.7 1309.8H1412M1390.7 1302.4H1412M1390.7 1295H1412M1390.7 1287.6H1412M1390.7 1280.2H1412M1390.7 1272.8H1412" stroke="#000" stroke-width="1.4" fill="none"/><rect x="1390.7" y="1268.3" width="21.3" height="101.3" fill="none" stroke="#000" stroke-width="3"/><path d="M1401.35 1267.3V1250.7" stroke="#000" stroke-width="2.6"/><path d="M1395.27 1250.7H1407.42" stroke="#000" stroke-width="3" stroke-linecap="round"/><path clip-path="url(#c57)" d="M1433 1111.8V1369.6" stroke="#000" stroke-width="1.4" fill="none"/><rect x="1422.3" y="1111.8" width="21.3" height="257.8" fill="none" stroke="#000" stroke-width="3"/><path d="M1432.95 1110.8V1075.6" stroke="#000" stroke-width="2.6"/><path d="M1426.87 1075.6H1439.02" stroke="#000" stroke-width="3" stroke-linecap="round"/><path d="M1328.3 1234.7H1376.6" stroke="#000" stroke-width="3"/><text class="st" transform="translate(1353.8 1237.9) scale(1 0.91)" letter-spacing="1.6">**</text><path d="M1392.3 1066.3H1441.3" stroke="#000" stroke-width="3"/><text class="st" transform="translate(1417 1069.5) scale(1 0.91)" >*</text><path clip-path="url(#c58)" d="M1463.7 1366h3.6v3.6h-3.6zM1470.9 1366h3.6v3.6h-3.6zM1478.1 1366h3.6v3.6h-3.6zM1485.3 1366h3.6v3.6h-3.6zM1467.3 1362.4h3.6v3.6h-3.6zM1474.5 1362.4h3.6v3.6h-3.6zM1481.7 1362.4h3.6v3.6h-3.6zM1463.7 1358.8h3.6v3.6h-3.6zM1470.9 1358.8h3.6v3.6h-3.6zM1478.1 1358.8h3.6v3.6h-3.6zM1485.3 1358.8h3.6v3.6h-3.6zM1467.3 1355.2h3.6v3.6h-3.6zM1474.5 1355.2h3.6v3.6h-3.6zM1481.7 1355.2h3.6v3.6h-3.6zM1463.7 1351.6h3.6v3.6h-3.6zM1470.9 1351.6h3.6v3.6h-3.6zM1478.1 1351.6h3.6v3.6h-3.6zM1485.3 1351.6h3.6v3.6h-3.6zM1467.3 1348h3.6v3.6h-3.6zM1474.5 1348h3.6v3.6h-3.6zM1481.7 1348h3.6v3.6h-3.6zM1463.7 1344.4h3.6v3.6h-3.6zM1470.9 1344.4h3.6v3.6h-3.6zM1478.1 1344.4h3.6v3.6h-3.6zM1485.3 1344.4h3.6v3.6h-3.6zM1467.3 1340.8h3.6v3.6h-3.6zM1474.5 1340.8h3.6v3.6h-3.6zM1481.7 1340.8h3.6v3.6h-3.6zM1463.7 1337.2h3.6v3.6h-3.6zM1470.9 1337.2h3.6v3.6h-3.6zM1478.1 1337.2h3.6v3.6h-3.6zM1485.3 1337.2h3.6v3.6h-3.6zM1467.3 1333.6h3.6v3.6h-3.6zM1474.5 1333.6h3.6v3.6h-3.6zM1481.7 1333.6h3.6v3.6h-3.6zM1463.7 1330h3.6v3.6h-3.6zM1470.9 1330h3.6v3.6h-3.6zM1478.1 1330h3.6v3.6h-3.6zM1485.3 1330h3.6v3.6h-3.6z" fill="#111"/><rect x="1463.7" y="1336.1" width="21.3" height="33.5" fill="none" stroke="#000" stroke-width="3"/><path d="M1474.35 1335.1V1333.2" stroke="#000" stroke-width="2.6"/><path d="M1468.27 1333.2H1480.42" stroke="#000" stroke-width="3" stroke-linecap="round"/><path clip-path="url(#c59)" d="M1481.1 1369.6h7.1v7.1h-7.1zM1495.3 1369.6h7.1v7.1h-7.1zM1509.5 1369.6h7.1v7.1h-7.1zM1488.2 1362.5h7.1v7.1h-7.1zM1502.4 1362.5h7.1v7.1h-7.1zM1516.6 1362.5h7.1v7.1h-7.1zM1481.1 1355.4h7.1v7.1h-7.1zM1495.3 1355.4h7.1v7.1h-7.1zM1509.5 1355.4h7.1v7.1h-7.1zM1488.2 1348.3h7.1v7.1h-7.1zM1502.4 1348.3h7.1v7.1h-7.1zM1516.6 1348.3h7.1v7.1h-7.1zM1481.1 1341.2h7.1v7.1h-7.1zM1495.3 1341.2h7.1v7.1h-7.1zM1509.5 1341.2h7.1v7.1h-7.1zM1488.2 1334.1h7.1v7.1h-7.1zM1502.4 1334.1h7.1v7.1h-7.1zM1516.6 1334.1h7.1v7.1h-7.1zM1481.1 1327h7.1v7.1h-7.1zM1495.3 1327h7.1v7.1h-7.1zM1509.5 1327h7.1v7.1h-7.1zM1488.2 1319.9h7.1v7.1h-7.1zM1502.4 1319.9h7.1v7.1h-7.1zM1516.6 1319.9h7.1v7.1h-7.1zM1481.1 1312.8h7.1v7.1h-7.1zM1495.3 1312.8h7.1v7.1h-7.1zM1509.5 1312.8h7.1v7.1h-7.1zM1488.2 1305.7h7.1v7.1h-7.1zM1502.4 1305.7h7.1v7.1h-7.1zM1516.6 1305.7h7.1v7.1h-7.1zM1481.1 1298.6h7.1v7.1h-7.1zM1495.3 1298.6h7.1v7.1h-7.1zM1509.5 1298.6h7.1v7.1h-7.1zM1488.2 1291.5h7.1v7.1h-7.1zM1502.4 1291.5h7.1v7.1h-7.1zM1516.6 1291.5h7.1v7.1h-7.1zM1481.1 1284.4h7.1v7.1h-7.1zM1495.3 1284.4h7.1v7.1h-7.1zM1509.5 1284.4h7.1v7.1h-7.1zM1488.2 1277.3h7.1v7.1h-7.1zM1502.4 1277.3h7.1v7.1h-7.1zM1516.6 1277.3h7.1v7.1h-7.1zM1481.1 1270.2h7.1v7.1h-7.1zM1495.3 1270.2h7.1v7.1h-7.1zM1509.5 1270.2h7.1v7.1h-7.1z" fill="#000"/><rect x="1495.3" y="1289.5" width="21.3" height="80.1" fill="none" stroke="#000" stroke-width="3"/><path d="M1505.95 1288.5V1283.1" stroke="#000" stroke-width="2.6"/><path d="M1499.87 1283.1H1512.02" stroke="#000" stroke-width="3" stroke-linecap="round"/><path clip-path="url(#c60)" d="M1526.9 1361.6H1548.2M1526.9 1354.2H1548.2M1526.9 1346.8H1548.2M1526.9 1339.4H1548.2M1526.9 1332H1548.2M1526.9 1324.6H1548.2M1526.9 1317.2H1548.2M1526.9 1309.8H1548.2" stroke="#000" stroke-width="1.4" fill="none"/><rect x="1526.9" y="1303.5" width="21.3" height="66.1" fill="none" stroke="#000" stroke-width="3"/><path d="M1537.55 1302.5V1297.5" stroke="#000" stroke-width="2.6"/><path d="M1531.48 1297.5H1543.63" stroke="#000" stroke-width="3" stroke-linecap="round"/><path clip-path="url(#c61)" d="M1569.2 1236.3V1369.6" stroke="#000" stroke-width="1.4" fill="none"/><rect x="1558.5" y="1236.3" width="21.3" height="133.3" fill="none" stroke="#000" stroke-width="3"/><path d="M1569.15 1235.3V1218" stroke="#000" stroke-width="2.6"/><path d="M1563.08 1218H1575.23" stroke="#000" stroke-width="3" stroke-linecap="round"/><path d="M1463 1274.2H1512.5" stroke="#000" stroke-width="3"/><text class="st" transform="translate(1489.7 1276.1) scale(1 0.91)" letter-spacing="1.6">**</text><path d="M1526.1 1207.3H1573.9" stroke="#000" stroke-width="3"/><text class="st" transform="translate(1550.9 1211.9) scale(1 0.91)" >*</text><path clip-path="url(#c62)" d="M1599.9 1366h3.6v3.6h-3.6zM1607.1 1366h3.6v3.6h-3.6zM1614.3 1366h3.6v3.6h-3.6zM1621.5 1366h3.6v3.6h-3.6zM1603.5 1362.4h3.6v3.6h-3.6zM1610.7 1362.4h3.6v3.6h-3.6zM1617.9 1362.4h3.6v3.6h-3.6zM1599.9 1358.8h3.6v3.6h-3.6zM1607.1 1358.8h3.6v3.6h-3.6zM1614.3 1358.8h3.6v3.6h-3.6zM1621.5 1358.8h3.6v3.6h-3.6zM1603.5 1355.2h3.6v3.6h-3.6zM1610.7 1355.2h3.6v3.6h-3.6zM1617.9 1355.2h3.6v3.6h-3.6zM1599.9 1351.6h3.6v3.6h-3.6zM1607.1 1351.6h3.6v3.6h-3.6zM1614.3 1351.6h3.6v3.6h-3.6zM1621.5 1351.6h3.6v3.6h-3.6zM1603.5 1348h3.6v3.6h-3.6zM1610.7 1348h3.6v3.6h-3.6zM1617.9 1348h3.6v3.6h-3.6zM1599.9 1344.4h3.6v3.6h-3.6zM1607.1 1344.4h3.6v3.6h-3.6zM1614.3 1344.4h3.6v3.6h-3.6zM1621.5 1344.4h3.6v3.6h-3.6z" fill="#111"/><rect x="1599.9" y="1350.5" width="21.3" height="19.1" fill="none" stroke="#000" stroke-width="3"/><path d="M1610.55 1349.5V1346.8" stroke="#000" stroke-width="2.6"/><path d="M1604.47 1346.8H1616.62" stroke="#000" stroke-width="3" stroke-linecap="round"/><path clip-path="url(#c63)" d="M1617.3 1369.6h7.1v7.1h-7.1zM1631.5 1369.6h7.1v7.1h-7.1zM1645.7 1369.6h7.1v7.1h-7.1zM1624.4 1362.5h7.1v7.1h-7.1zM1638.6 1362.5h7.1v7.1h-7.1zM1652.8 1362.5h7.1v7.1h-7.1zM1617.3 1355.4h7.1v7.1h-7.1zM1631.5 1355.4h7.1v7.1h-7.1zM1645.7 1355.4h7.1v7.1h-7.1zM1624.4 1348.3h7.1v7.1h-7.1zM1638.6 1348.3h7.1v7.1h-7.1zM1652.8 1348.3h7.1v7.1h-7.1zM1617.3 1341.2h7.1v7.1h-7.1zM1631.5 1341.2h7.1v7.1h-7.1zM1645.7 1341.2h7.1v7.1h-7.1zM1624.4 1334.1h7.1v7.1h-7.1zM1638.6 1334.1h7.1v7.1h-7.1zM1652.8 1334.1h7.1v7.1h-7.1zM1617.3 1327h7.1v7.1h-7.1zM1631.5 1327h7.1v7.1h-7.1zM1645.7 1327h7.1v7.1h-7.1zM1624.4 1319.9h7.1v7.1h-7.1zM1638.6 1319.9h7.1v7.1h-7.1zM1652.8 1319.9h7.1v7.1h-7.1zM1617.3 1312.8h7.1v7.1h-7.1zM1631.5 1312.8h7.1v7.1h-7.1zM1645.7 1312.8h7.1v7.1h-7.1zM1624.4 1305.7h7.1v7.1h-7.1zM1638.6 1305.7h7.1v7.1h-7.1zM1652.8 1305.7h7.1v7.1h-7.1z" fill="#000"/><rect x="1631.5" y="1323.4" width="21.3" height="46.2" fill="none" stroke="#000" stroke-width="3"/><path d="M1642.15 1322.4V1318.8" stroke="#000" stroke-width="2.6"/><path d="M1636.07 1318.8H1648.22" stroke="#000" stroke-width="3" stroke-linecap="round"/><path clip-path="url(#c64)" d="M1663.1 1361.6H1684.4M1663.1 1354.2H1684.4" stroke="#000" stroke-width="1.4" fill="none"/><rect x="1663.1" y="1346.2" width="21.3" height="23.4" fill="none" stroke="#000" stroke-width="3"/><path d="M1673.75 1345.2V1344" stroke="#000" stroke-width="2.6"/><path d="M1667.67 1344H1679.83" stroke="#000" stroke-width="3" stroke-linecap="round"/><path clip-path="url(#c65)" d="M1705.4 1320.2V1369.6" stroke="#000" stroke-width="1.4" fill="none"/><rect x="1694.7" y="1320.2" width="21.3" height="49.4" fill="none" stroke="#000" stroke-width="3"/><path d="M1601.7 1308.7H1650" stroke="#000" stroke-width="3"/><text class="st" transform="translate(1627.3 1312.3) scale(1 0.91)" letter-spacing="1.6">**</text><path d="M1663.8 1308.7H1711.7" stroke="#000" stroke-width="3"/><text class="st" transform="translate(1688.3 1312.3) scale(1 0.91)" letter-spacing="1.6">**</text><path clip-path="url(#c66)" d="M1736.1 1366h3.6v3.6h-3.6zM1743.3 1366h3.6v3.6h-3.6zM1750.5 1366h3.6v3.6h-3.6zM1757.7 1366h3.6v3.6h-3.6zM1739.7 1362.4h3.6v3.6h-3.6zM1746.9 1362.4h3.6v3.6h-3.6zM1754.1 1362.4h3.6v3.6h-3.6z" fill="#111"/><rect x="1736.1" y="1366" width="21.3" height="3.6" fill="none" stroke="#000" stroke-width="3"/><path clip-path="url(#c67)" d="M1753.5 1369.6h7.1v7.1h-7.1zM1767.7 1369.6h7.1v7.1h-7.1zM1781.9 1369.6h7.1v7.1h-7.1zM1760.6 1362.5h7.1v7.1h-7.1zM1774.8 1362.5h7.1v7.1h-7.1zM1789 1362.5h7.1v7.1h-7.1zM1753.5 1355.4h7.1v7.1h-7.1zM1767.7 1355.4h7.1v7.1h-7.1zM1781.9 1355.4h7.1v7.1h-7.1zM1760.6 1348.3h7.1v7.1h-7.1zM1774.8 1348.3h7.1v7.1h-7.1zM1789 1348.3h7.1v7.1h-7.1zM1753.5 1341.2h7.1v7.1h-7.1zM1767.7 1341.2h7.1v7.1h-7.1zM1781.9 1341.2h7.1v7.1h-7.1zM1760.6 1334.1h7.1v7.1h-7.1zM1774.8 1334.1h7.1v7.1h-7.1zM1789 1334.1h7.1v7.1h-7.1zM1753.5 1327h7.1v7.1h-7.1zM1767.7 1327h7.1v7.1h-7.1zM1781.9 1327h7.1v7.1h-7.1zM1760.6 1319.9h7.1v7.1h-7.1zM1774.8 1319.9h7.1v7.1h-7.1zM1789 1319.9h7.1v7.1h-7.1z" fill="#000"/><rect x="1767.7" y="1340.5" width="21.3" height="29.1" fill="none" stroke="#000" stroke-width="3"/><path d="M1778.35 1339.5V1333.5" stroke="#000" stroke-width="2.6"/><path d="M1772.27 1333.5H1784.42" stroke="#000" stroke-width="3" stroke-linecap="round"/><rect x="1799.3" y="1365.1" width="21.3" height="4.5" fill="none" stroke="#000" stroke-width="3"/><path clip-path="url(#c69)" d="M1841.6 1315.9V1369.6" stroke="#000" stroke-width="1.4" fill="none"/><rect x="1830.9" y="1315.9" width="21.3" height="53.7" fill="none" stroke="#000" stroke-width="3"/><path d="M1841.55 1314.9V1306.1" stroke="#000" stroke-width="2.6"/><path d="M1835.47 1306.1H1847.62" stroke="#000" stroke-width="3" stroke-linecap="round"/><path d="M1740.5 1325.7H1788.8" stroke="#000" stroke-width="3"/><text class="st" transform="translate(1764.8 1329.3) scale(1 0.91)" >*</text><path d="M1799.8 1296.7H1847.2" stroke="#000" stroke-width="3"/><text class="st" transform="translate(1823.2 1300.9) scale(1 0.91)" letter-spacing="1.6">**</text><path d="M1182.5 997.4V1370" stroke="#000" stroke-width="2.8" fill="none"/><path d="M1171 1370H1866.4" stroke="#000" stroke-width="2.8" fill="none"/><path d="M1171 997.5H1182.5" stroke="#000" stroke-width="2.8"/><text x="1167.8" y="1005.9" class="yl">0.025</text><path d="M1171 1072.3H1182.5" stroke="#000" stroke-width="2.8"/><text x="1167.8" y="1080.7" class="yl">0.020</text><path d="M1171 1146.8H1182.5" stroke="#000" stroke-width="2.8"/><text x="1167.8" y="1155.2" class="yl">0.015</text><path d="M1171 1221.6H1182.5" stroke="#000" stroke-width="2.8"/><text x="1167.8" y="1230" class="yl">0.010</text><path d="M1171 1296H1182.5" stroke="#000" stroke-width="2.8"/><text x="1167.8" y="1304.4" class="yl">0.005</text><path d="M1171 1370H1182.5" stroke="#000" stroke-width="2.8"/><text x="1167.8" y="1378.4" class="yl">0.000</text><path d="M1249 1370V1381.5" stroke="#000" stroke-width="2.8"/><path d="M1385.2 1370V1381.5" stroke="#000" stroke-width="2.8"/><path d="M1521.4 1370V1381.5" stroke="#000" stroke-width="2.8"/><path d="M1657.6 1370V1381.5" stroke="#000" stroke-width="2.8"/><path d="M1793.8 1370V1381.5" stroke="#000" stroke-width="2.8"/><text class="xl" transform="translate(1260.6 1412.4) scale(0.967 1.0) rotate(-45)">Micrococcaceae_NA</text><text class="xl" transform="translate(1396.8 1412.4) scale(0.967 1.0) rotate(-45)">Pontibacter</text><text class="xl" transform="translate(1533 1412.4) scale(0.967 1.0) rotate(-45)">Adhaeribacter</text><text class="xl" transform="translate(1669.2 1412.4) scale(0.967 1.0) rotate(-45)">Agromyces</text><text class="xl" transform="translate(1805.4 1412.4) scale(0.967 1.0) rotate(-45)">Pseudomonas</text><text class="yt" style="font-size:29.5px" transform="translate(1082.6 1183.5) rotate(-90)" textLength="276.9" lengthAdjust="spacingAndGlyphs">Relative Abundance</text><text class="pl" style="font-size:59.5px" x="1060.8" y="925.2">(d)</text><path clip-path="url(#c70)" d="M1866.3 1006.8h3.2v3.2h-3.2zM1872.7 1006.8h3.2v3.2h-3.2zM1879.1 1006.8h3.2v3.2h-3.2zM1885.5 1006.8h3.2v3.2h-3.2zM1891.9 1006.8h3.2v3.2h-3.2zM1898.3 1006.8h3.2v3.2h-3.2zM1904.7 1006.8h3.2v3.2h-3.2zM1869.5 1003.6h3.2v3.2h-3.2zM1875.9 1003.6h3.2v3.2h-3.2zM1882.3 1003.6h3.2v3.2h-3.2zM1888.7 1003.6h3.2v3.2h-3.2zM1895.1 1003.6h3.2v3.2h-3.2zM1901.5 1003.6h3.2v3.2h-3.2zM1907.9 1003.6h3.2v3.2h-3.2zM1866.3 1000.4h3.2v3.2h-3.2zM1872.7 1000.4h3.2v3.2h-3.2zM1879.1 1000.4h3.2v3.2h-3.2zM1885.5 1000.4h3.2v3.2h-3.2zM1891.9 1000.4h3.2v3.2h-3.2zM1898.3 1000.4h3.2v3.2h-3.2zM1904.7 1000.4h3.2v3.2h-3.2zM1869.5 997.2h3.2v3.2h-3.2zM1875.9 997.2h3.2v3.2h-3.2zM1882.3 997.2h3.2v3.2h-3.2zM1888.7 997.2h3.2v3.2h-3.2zM1895.1 997.2h3.2v3.2h-3.2zM1901.5 997.2h3.2v3.2h-3.2zM1907.9 997.2h3.2v3.2h-3.2zM1866.3 994h3.2v3.2h-3.2zM1872.7 994h3.2v3.2h-3.2zM1879.1 994h3.2v3.2h-3.2zM1885.5 994h3.2v3.2h-3.2zM1891.9 994h3.2v3.2h-3.2zM1898.3 994h3.2v3.2h-3.2zM1904.7 994h3.2v3.2h-3.2zM1869.5 990.8h3.2v3.2h-3.2zM1875.9 990.8h3.2v3.2h-3.2zM1882.3 990.8h3.2v3.2h-3.2zM1888.7 990.8h3.2v3.2h-3.2zM1895.1 990.8h3.2v3.2h-3.2zM1901.5 990.8h3.2v3.2h-3.2zM1907.9 990.8h3.2v3.2h-3.2zM1866.3 987.6h3.2v3.2h-3.2zM1872.7 987.6h3.2v3.2h-3.2zM1879.1 987.6h3.2v3.2h-3.2zM1885.5 987.6h3.2v3.2h-3.2zM1891.9 987.6h3.2v3.2h-3.2zM1898.3 987.6h3.2v3.2h-3.2zM1904.7 987.6h3.2v3.2h-3.2zM1869.5 984.4h3.2v3.2h-3.2zM1875.9 984.4h3.2v3.2h-3.2zM1882.3 984.4h3.2v3.2h-3.2zM1888.7 984.4h3.2v3.2h-3.2zM1895.1 984.4h3.2v3.2h-3.2zM1901.5 984.4h3.2v3.2h-3.2zM1907.9 984.4h3.2v3.2h-3.2z" fill="#111"/><rect x="1866.3" y="989.3" width="38.5" height="20.7" fill="none" stroke="#000" stroke-width="3" rx="0.8"/><text class="lg" style="font-size:32.9px" transform="translate(1925.6 1009.8) scale(0.872 1)">dCK</text><path clip-path="url(#c71)" d="M1862.45 1052h6.6v6.6h-6.6zM1875.65 1052h6.6v6.6h-6.6zM1888.85 1052h6.6v6.6h-6.6zM1902.05 1052h6.6v6.6h-6.6zM1855.85 1045.4h6.6v6.6h-6.6zM1869.05 1045.4h6.6v6.6h-6.6zM1882.25 1045.4h6.6v6.6h-6.6zM1895.45 1045.4h6.6v6.6h-6.6zM1908.65 1045.4h6.6v6.6h-6.6zM1862.45 1038.8h6.6v6.6h-6.6zM1875.65 1038.8h6.6v6.6h-6.6zM1888.85 1038.8h6.6v6.6h-6.6zM1902.05 1038.8h6.6v6.6h-6.6zM1855.85 1032.2h6.6v6.6h-6.6zM1869.05 1032.2h6.6v6.6h-6.6zM1882.25 1032.2h6.6v6.6h-6.6zM1895.45 1032.2h6.6v6.6h-6.6zM1908.65 1032.2h6.6v6.6h-6.6zM1862.45 1025.6h6.6v6.6h-6.6zM1875.65 1025.6h6.6v6.6h-6.6zM1888.85 1025.6h6.6v6.6h-6.6zM1902.05 1025.6h6.6v6.6h-6.6zM1855.85 1019h6.6v6.6h-6.6zM1869.05 1019h6.6v6.6h-6.6zM1882.25 1019h6.6v6.6h-6.6zM1895.45 1019h6.6v6.6h-6.6zM1908.65 1019h6.6v6.6h-6.6zM1862.45 1012.4h6.6v6.6h-6.6zM1875.65 1012.4h6.6v6.6h-6.6zM1888.85 1012.4h6.6v6.6h-6.6zM1902.05 1012.4h6.6v6.6h-6.6z" fill="#000"/><rect x="1866.3" y="1031.3" width="38.5" height="20.7" fill="none" stroke="#000" stroke-width="3" rx="0.8"/><text class="lg" style="font-size:32.9px" transform="translate(1925.6 1051.8) scale(0.872 1)">dT</text><path d="M1866.3 1083.7H1904.8M1866.3 1092H1904.8" stroke="#000" stroke-width="1.5"/><rect x="1866.3" y="1076.4" width="38.5" height="20.7" fill="none" stroke="#000" stroke-width="3" rx="0.8"/><text class="lg" style="font-size:32.9px" transform="translate(1925.6 1096.8) scale(0.872 1)">dF</text><path d="M1875.5 1120.2V1140.9M1885.5 1120.2V1140.9M1895.6 1120.2V1140.9" stroke="#000" stroke-width="1.5"/><rect x="1866.3" y="1120.2" width="38.5" height="20.7" fill="none" stroke="#000" stroke-width="3" rx="0.8"/><text class="lg" style="font-size:32.9px" transform="translate(1925.6 1140.6) scale(0.872 1)">dTF</text></g>
</svg></body></html>
